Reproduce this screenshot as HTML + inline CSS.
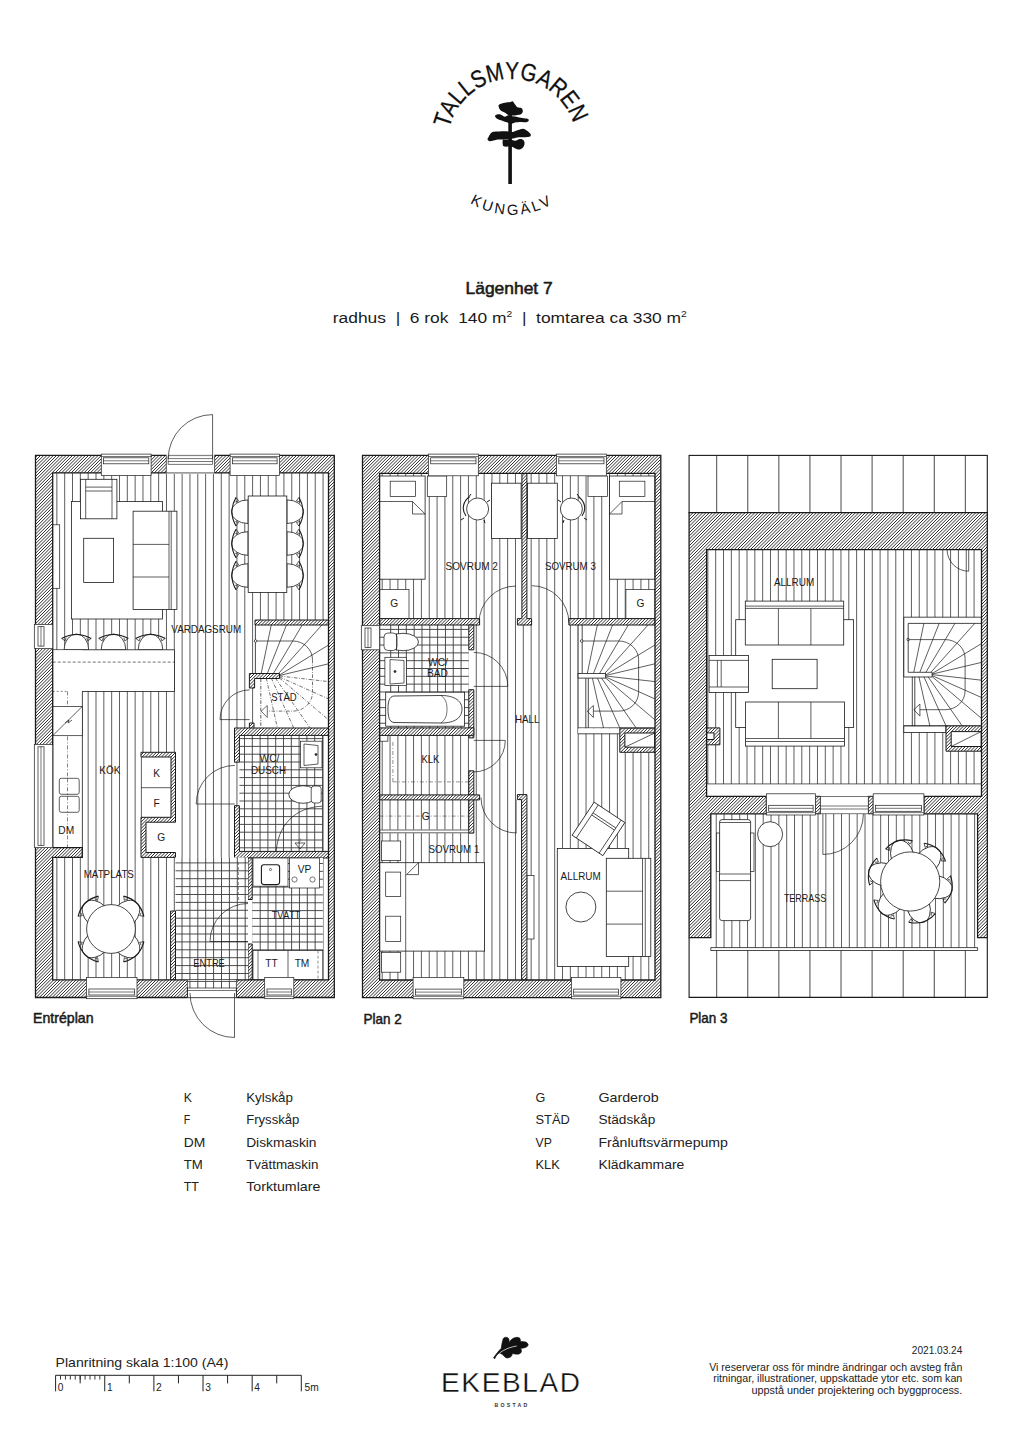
<!DOCTYPE html>
<html><head><meta charset="utf-8"><style>
html,body{margin:0;padding:0;background:#fff;}
svg{display:block;font-family:"Liberation Sans",sans-serif;}
</style></head><body>
<svg width="1024" height="1456" viewBox="0 0 1024 1456">
<defs><clipPath id="c1"><path d="M141 752.3 L175.5 752.3 L175.5 822.2 L146 822.2 L146 852.5 L175.5 852.5 L175.5 857.4 L141 857.4 L141 817.3 L171 817.3 L171 757 L141 757Z"/></clipPath><clipPath id="c2"><path d="M249.4 673.5 L279.5 673.5 L279.5 678.5 L254.6 678.5 L254.6 688 L249.4 688Z"/></clipPath><clipPath id="c3"><path d="M249.4 723H254V729H249.4Z"/></clipPath><clipPath id="c4"><path d="M255 620H328.5V625H255Z"/></clipPath><clipPath id="c5"><path d="M234.5 728 L328.5 728 L328.5 735.4 L239.4 735.4 L239.4 762.2 L234.5 762.2Z"/></clipPath><clipPath id="c6"><path d="M234.5 805.7 L239.4 805.7 L239.4 851.4 L328.5 851.4 L328.5 858 L234.5 858Z"/></clipPath><clipPath id="c7"><path d="M248 858H252.2V899.5H248Z"/></clipPath><clipPath id="c8"><path d="M248 944H252.2V979.9H248Z"/></clipPath><clipPath id="c9"><path d="M170.6 911H175.5V979.9H170.6Z"/></clipPath><clipPath id="c10"><path d="M35.5 455.3 L334.3 455.3 L334.3 997.5 L35.5 997.5Z M52.7 472.9 L52.7 847.6 L82.3 847.6 L82.3 857.4 L52.7 857.4 L52.7 979.9 L328.5 979.9 L328.5 472.9Z" clip-rule="evenodd"/></clipPath><clipPath id="c11"><path d="M619.8 728.2 L655 728.2 L655 752.3 L619.8 752.3Z M624.9 733 L654.8 733 L654.8 747.2 L624.9 747.2Z" clip-rule="evenodd"/></clipPath><clipPath id="c12"><path d="M521.9 473.3 L526.9 473.3 L526.9 618.6 L531.6 618.6 L531.6 625 L517.4 625 L517.4 618.6 L521.9 618.6Z"/></clipPath><clipPath id="c13"><path d="M379.6 618.6H479.6V625H379.6Z"/></clipPath><clipPath id="c14"><path d="M568.9 618.6H655V625H568.9Z"/></clipPath><clipPath id="c15"><path d="M468.8 625H473.8V649.8H468.8Z"/></clipPath><clipPath id="c16"><path d="M468.8 689.7H473.8V737.9H468.8Z"/></clipPath><clipPath id="c17"><path d="M379.6 727.9H473.8V735.4H379.6Z"/></clipPath><clipPath id="c18"><path d="M468.8 770.8H473.8V833.1H468.8Z"/></clipPath><clipPath id="c19"><path d="M379.6 794.9H479.6V799.9H379.6Z"/></clipPath><clipPath id="c20"><path d="M517.4 794.6 L526.9 794.6 L526.9 980 L521.6 980 L521.6 799.6 L517.4 799.6Z"/></clipPath><clipPath id="c21"><path d="M362.5 455.3 L660.8 455.3 L660.8 997.6 L362.5 997.6Z M379.6 473.3 L379.6 980 L655 980 L655 473.3Z" clip-rule="evenodd"/></clipPath><clipPath id="c22"><path d="M706.6 727.9 L719.9 727.9 L719.9 744.8 L706.6 744.8Z M706.6 732.9 L714 732.9 L714 739.5 L706.6 739.5Z" clip-rule="evenodd"/></clipPath><clipPath id="c23"><path d="M946 725.9 L981.5 725.9 L981.5 751.2 L946 751.2Z M951.2 731.6 L981.2 731.6 L981.2 746.5 L951.2 746.5Z" clip-rule="evenodd"/></clipPath><clipPath id="c24"><path d="M689.1 512.6 L987.3 512.6 L987.3 937.6 L977.6 937.6 L977.6 813.8 L923.9 813.8 L923.9 796.3 L981.5 796.3 L981.5 549.6 L706.6 549.6 L706.6 796.3 L766.4 796.3 L766.4 813.8 L710.8 813.8 L710.8 937.7 L689.1 937.7Z"/></clipPath><clipPath id="c25"><path d="M815.4 796.3H820.4V813.8H815.4Z"/></clipPath><clipPath id="c26"><path d="M868.2 796.3H873.2V813.8H868.2Z"/></clipPath>
<pattern id="h1" patternUnits="userSpaceOnUse" width="2.26" height="4" patternTransform="rotate(45)"><rect width="2.26" height="4" fill="#fff"/><rect x="0" y="0" width="0.9" height="4" fill="#1a1a1a"/></pattern>
<pattern id="h3" patternUnits="userSpaceOnUse" width="1.95" height="4" patternTransform="rotate(45)"><rect width="1.95" height="4" fill="#fff"/><rect x="0" y="0" width="0.75" height="4" fill="#222"/></pattern>
</defs>
<rect width="1024" height="1456" fill="#fff"/>
<path id="arcTop" d="M447.5 143.5 A64.5 64.5 0 0 1 576.5 143.5" fill="none"/>
<text font-size="24.5" fill="#111" stroke="#111" stroke-width="0.25"><textPath href="#arcTop" startOffset="98.6" text-anchor="middle" textLength="167" lengthAdjust="spacingAndGlyphs">TALLSMYGAREN</textPath></text>
<path id="arcBot" d="M432 134.8 A80 80 0 0 0 592 134.8" fill="none"/>
<text font-size="14.8" fill="#111" letter-spacing="2.7"><textPath href="#arcBot" startOffset="50%" text-anchor="middle">KUNGÄLV</textPath></text>
<rect x="508.3" y="104" width="3.6" height="80" fill="#111"/>
<path d="M499.3 104.4 C500.35 103.75 503.13 103.2 505 102.8 C506.87 102.4 509.2 102.23 510.5 102 C511.8 101.77 512.03 101 512.8 101.4 C513.57 101.8 514.32 103.42 515.1 104.4 C515.88 105.38 516.42 106.67 517.5 107.3 C518.58 107.93 520.72 107.52 521.6 108.2 C522.48 108.88 522.9 110.38 522.8 111.4 C522.7 112.42 521.88 113.72 521 114.3 C520.12 114.88 519.02 114.7 517.5 114.9 C515.98 115.1 513.47 115.5 511.9 115.5 C510.33 115.5 509.32 115.38 508.1 114.9 C506.88 114.42 505.87 113.38 504.6 112.6 C503.33 111.82 501.48 111.18 500.5 110.2 C499.52 109.22 498.9 107.67 498.7 106.7 C498.5 105.73 498.25 105.05 499.3 104.4Z" fill="#111" stroke="none" stroke-width="0"/>
<path d="M495.8 114.9 C496.58 114.5 498.43 114 499.9 114.3 C501.37 114.6 503.33 116.5 504.6 116.7 C505.87 116.9 506.52 115.6 507.5 115.5 C508.48 115.4 509.03 115.9 510.5 116.1 C511.97 116.3 514.35 116.37 516.3 116.7 C518.25 117.03 520.25 117.72 522.2 118.1 C524.15 118.48 526.93 118.55 528 119 C529.07 119.45 528.88 120.27 528.6 120.8 C528.32 121.33 527.57 122 526.3 122.2 C525.03 122.4 522.87 121.95 521 122 C519.13 122.05 516.67 122.22 515.1 122.5 C513.53 122.78 512.87 123.7 511.6 123.7 C510.33 123.7 509.05 122.98 507.5 122.5 C505.95 122.02 503.95 121.38 502.3 120.8 C500.65 120.22 498.78 119.68 497.6 119 C496.42 118.32 495.5 117.38 495.2 116.7 C494.9 116.02 495.02 115.3 495.8 114.9Z" fill="#111" stroke="none" stroke-width="0"/>
<path d="M488.2 137.8 C488.88 136.63 490.13 133.53 491.7 132.5 C493.27 131.47 495.15 131.8 497.6 131.6 C500.05 131.4 503.87 131.25 506.4 131.3 C508.93 131.35 510.85 132.1 512.8 131.9 C514.75 131.7 516.25 130.58 518.1 130.1 C519.95 129.62 521.85 128.4 523.9 129 C525.95 129.6 529.42 132.43 530.4 133.7 C531.38 134.97 530.58 136.02 529.8 136.6 C529.02 137.18 527.55 137.1 525.7 137.2 C523.85 137.3 520.85 137 518.7 137.2 C516.55 137.4 515.35 138.02 512.8 138.4 C510.25 138.78 505.93 139.32 503.4 139.5 C500.87 139.68 499.83 139.2 497.6 139.5 C495.37 139.8 491.67 141.3 490 141.3 C488.33 141.3 487.9 140.08 487.6 139.5 C487.3 138.92 487.52 138.97 488.2 137.8Z" fill="#111" stroke="none" stroke-width="0"/>
<path d="M502.8 140.1 C503.1 139.22 503.32 139.6 504.6 139.5 C505.88 139.4 508.75 139.3 510.5 139.5 C512.25 139.7 513.55 140.8 515.1 140.7 C516.65 140.6 518.42 139 519.8 138.9 C521.18 138.8 522.62 139.22 523.4 140.1 C524.18 140.98 524.7 142.83 524.5 144.2 C524.3 145.57 523.27 147.42 522.2 148.3 C521.13 149.18 519.47 149.6 518.1 149.5 C516.73 149.4 515.18 148.18 514 147.7 C512.82 147.22 512.57 146.78 511 146.6 C509.43 146.42 505.97 146.9 504.6 146.6 C503.23 146.3 503.1 145.88 502.8 144.8 C502.5 143.72 502.5 140.98 502.8 140.1Z" fill="#111" stroke="none" stroke-width="0"/>
<text x="509.1" y="294.2" font-size="16.2" text-anchor="middle" font-weight="normal" fill="#1a1a1a" textLength="87.2" lengthAdjust="spacingAndGlyphs" stroke="#1a1a1a" stroke-width="0.55">Lägenhet 7</text>
<text x="509.8" y="323.2" font-size="15.2" text-anchor="middle" fill="#1a1a1a" textLength="354" lengthAdjust="spacingAndGlyphs">radhus &#160;| &#160;6 rok &#160;140 m<tspan font-size="9" dy="-6">2</tspan><tspan dy="6"> &#160;| &#160;tomtarea ca 330 m</tspan><tspan font-size="9" dy="-6">2</tspan></text>
<text x="33" y="1022.9" font-size="14.2" text-anchor="start" font-weight="normal" fill="#1a1a1a" textLength="60.5" lengthAdjust="spacingAndGlyphs" stroke="#1a1a1a" stroke-width="0.5">Entréplan</text>
<text x="363.6" y="1023.5" font-size="14.2" text-anchor="start" font-weight="normal" fill="#1a1a1a" textLength="38.2" lengthAdjust="spacingAndGlyphs" stroke="#1a1a1a" stroke-width="0.5">Plan 2</text>
<text x="689.4" y="1022.9" font-size="14.2" text-anchor="start" font-weight="normal" fill="#1a1a1a" textLength="38.1" lengthAdjust="spacingAndGlyphs" stroke="#1a1a1a" stroke-width="0.5">Plan 3</text>
<text x="183.7" y="1101.9" font-size="13.4" text-anchor="start" font-weight="normal" fill="#222" textLength="8.2" lengthAdjust="spacingAndGlyphs">K</text>
<text x="246.2" y="1101.9" font-size="13.4" text-anchor="start" font-weight="normal" fill="#222" textLength="46.8" lengthAdjust="spacingAndGlyphs">Kylskåp</text>
<text x="183.7" y="1124.25" font-size="13.4" text-anchor="start" font-weight="normal" fill="#222" textLength="6.5" lengthAdjust="spacingAndGlyphs">F</text>
<text x="246.2" y="1124.25" font-size="13.4" text-anchor="start" font-weight="normal" fill="#222" textLength="53.1" lengthAdjust="spacingAndGlyphs">Frysskåp</text>
<text x="183.7" y="1146.6" font-size="13.4" text-anchor="start" font-weight="normal" fill="#222" textLength="21.5" lengthAdjust="spacingAndGlyphs">DM</text>
<text x="246.2" y="1146.6" font-size="13.4" text-anchor="start" font-weight="normal" fill="#222" textLength="70.3" lengthAdjust="spacingAndGlyphs">Diskmaskin</text>
<text x="183.7" y="1168.95" font-size="13.4" text-anchor="start" font-weight="normal" fill="#222" textLength="19.1" lengthAdjust="spacingAndGlyphs">TM</text>
<text x="246.2" y="1168.95" font-size="13.4" text-anchor="start" font-weight="normal" fill="#222" textLength="72.2" lengthAdjust="spacingAndGlyphs">Tvättmaskin</text>
<text x="183.7" y="1191.3" font-size="13.4" text-anchor="start" font-weight="normal" fill="#222" textLength="15.2" lengthAdjust="spacingAndGlyphs">TT</text>
<text x="246.2" y="1191.3" font-size="13.4" text-anchor="start" font-weight="normal" fill="#222" textLength="74.2" lengthAdjust="spacingAndGlyphs">Torktumlare</text>
<text x="535.5" y="1101.9" font-size="13.4" text-anchor="start" font-weight="normal" fill="#222" textLength="9.8" lengthAdjust="spacingAndGlyphs">G</text>
<text x="598.4" y="1101.9" font-size="13.4" text-anchor="start" font-weight="normal" fill="#222" textLength="60.2" lengthAdjust="spacingAndGlyphs">Garderob</text>
<text x="535.5" y="1124.25" font-size="13.4" text-anchor="start" font-weight="normal" fill="#222" textLength="34.3" lengthAdjust="spacingAndGlyphs">STÄD</text>
<text x="598.4" y="1124.25" font-size="13.4" text-anchor="start" font-weight="normal" fill="#222" textLength="56.9" lengthAdjust="spacingAndGlyphs">Städskåp</text>
<text x="535.5" y="1146.6" font-size="13.4" text-anchor="start" font-weight="normal" fill="#222" textLength="16.3" lengthAdjust="spacingAndGlyphs">VP</text>
<text x="598.4" y="1146.6" font-size="13.4" text-anchor="start" font-weight="normal" fill="#222" textLength="129.6" lengthAdjust="spacingAndGlyphs">Frånluftsvärmepump</text>
<text x="535.5" y="1168.95" font-size="13.4" text-anchor="start" font-weight="normal" fill="#222" textLength="24.2" lengthAdjust="spacingAndGlyphs">KLK</text>
<text x="598.4" y="1168.95" font-size="13.4" text-anchor="start" font-weight="normal" fill="#222" textLength="85.9" lengthAdjust="spacingAndGlyphs">Klädkammare</text>
<text x="55.6" y="1366.9" font-size="13.2" text-anchor="start" font-weight="normal" fill="#222" textLength="172.8" lengthAdjust="spacingAndGlyphs">Planritning skala 1:100 (A4)</text>
<line x1="55.6" y1="1375.3" x2="301.3" y2="1375.3" stroke="#222" stroke-width="1"/>
<line x1="55.6" y1="1375.3" x2="55.6" y2="1391.3" stroke="#222" stroke-width="1"/>
<line x1="104.74" y1="1375.3" x2="104.74" y2="1391.3" stroke="#222" stroke-width="1"/>
<line x1="153.88" y1="1375.3" x2="153.88" y2="1391.3" stroke="#222" stroke-width="1"/>
<line x1="203.02" y1="1375.3" x2="203.02" y2="1391.3" stroke="#222" stroke-width="1"/>
<line x1="252.16" y1="1375.3" x2="252.16" y2="1391.3" stroke="#222" stroke-width="1"/>
<line x1="301.3" y1="1375.3" x2="301.3" y2="1391.3" stroke="#222" stroke-width="1"/>
<line x1="80.17" y1="1375.3" x2="80.17" y2="1383.4" stroke="#222" stroke-width="1"/>
<line x1="129.31" y1="1375.3" x2="129.31" y2="1383.4" stroke="#222" stroke-width="1"/>
<line x1="178.45" y1="1375.3" x2="178.45" y2="1383.4" stroke="#222" stroke-width="1"/>
<line x1="227.59" y1="1375.3" x2="227.59" y2="1383.4" stroke="#222" stroke-width="1"/>
<line x1="276.73" y1="1375.3" x2="276.73" y2="1383.4" stroke="#222" stroke-width="1"/>
<line x1="60.51" y1="1375.3" x2="60.51" y2="1379.6" stroke="#222" stroke-width="0.9"/>
<line x1="65.43" y1="1375.3" x2="65.43" y2="1379.6" stroke="#222" stroke-width="0.9"/>
<line x1="70.34" y1="1375.3" x2="70.34" y2="1379.6" stroke="#222" stroke-width="0.9"/>
<line x1="75.26" y1="1375.3" x2="75.26" y2="1379.6" stroke="#222" stroke-width="0.9"/>
<line x1="80.17" y1="1375.3" x2="80.17" y2="1379.6" stroke="#222" stroke-width="0.9"/>
<line x1="85.08" y1="1375.3" x2="85.08" y2="1379.6" stroke="#222" stroke-width="0.9"/>
<line x1="90" y1="1375.3" x2="90" y2="1379.6" stroke="#222" stroke-width="0.9"/>
<line x1="94.91" y1="1375.3" x2="94.91" y2="1379.6" stroke="#222" stroke-width="0.9"/>
<line x1="99.83" y1="1375.3" x2="99.83" y2="1379.6" stroke="#222" stroke-width="0.9"/>
<text x="57.8" y="1391.3" font-size="10.2" text-anchor="start" font-weight="normal" fill="#222">0</text>
<text x="106.94" y="1391.3" font-size="10.2" text-anchor="start" font-weight="normal" fill="#222">1</text>
<text x="156.08" y="1391.3" font-size="10.2" text-anchor="start" font-weight="normal" fill="#222">2</text>
<text x="205.22" y="1391.3" font-size="10.2" text-anchor="start" font-weight="normal" fill="#222">3</text>
<text x="254.36" y="1391.3" font-size="10.2" text-anchor="start" font-weight="normal" fill="#222">4</text>
<text x="304.5" y="1391.3" font-size="10.2" text-anchor="start" font-weight="normal" fill="#222">5m</text>
<path d="M493.5 1357.8 C497 1353 499 1350.5 501.1 1348.5 C502 1344 502.5 1339 504 1337.8 C506 1336.5 508.5 1337.5 509 1339.5 C509.2 1341 508.9 1342 508.9 1342.6 C510.5 1340 513 1337.5 517 1337.3 C520 1337.2 521 1339.5 520.2 1341.5 C523 1341.5 527 1341.5 528 1344 C528.8 1346.5 525.5 1348 520.5 1348.5 C522 1350 522 1353 519 1354 C516.5 1354.5 514 1354 512.3 1353.4 C512.5 1356 510 1358 507.5 1358 C505 1358 504 1356 502.5 1354.5 C501 1353.5 500 1353 499.2 1352.9 C497 1354.5 495.5 1356.5 494.8 1358.8 Z" fill="#111" stroke="#111" stroke-width="0.6"/>
<path d="M499.6 1352.9 C505 1349 511 1346.8 516.7 1346" fill="none" stroke="#fff" stroke-width="0.7"/>
<text x="441" y="1391.5" font-size="28" fill="#111" stroke="#fff" stroke-width="0.3" textLength="139" lengthAdjust="spacing">EKEBLAD</text>
<text x="494.4" y="1407" font-size="5.2" font-weight="bold" fill="#333" textLength="32.8" lengthAdjust="spacing">BOSTAD</text>
<text x="962.3" y="1353.5" font-size="10.4" text-anchor="end" font-weight="normal" fill="#222" textLength="50.5" lengthAdjust="spacingAndGlyphs">2021.03.24</text>
<text x="962.3" y="1370.6" font-size="10.4" text-anchor="end" font-weight="normal" fill="#222" textLength="253.1" lengthAdjust="spacingAndGlyphs">Vi reserverar oss för mindre ändringar och avsteg från</text>
<text x="962.3" y="1381.9" font-size="10.4" text-anchor="end" font-weight="normal" fill="#222" textLength="249.1" lengthAdjust="spacingAndGlyphs">ritningar, illustrationer, uppskattade ytor etc. som kan</text>
<text x="962.3" y="1393.5" font-size="10.4" text-anchor="end" font-weight="normal" fill="#222" textLength="210.9" lengthAdjust="spacingAndGlyphs">uppstå under projektering och byggprocess.</text>
<rect x="52.7" y="472.9" width="275.8" height="507" fill="#fff"/>
<line x1="56.85" y1="472.9" x2="56.85" y2="979.9" stroke="#2a2a2a" stroke-width="0.75"/>
<line x1="64.68" y1="472.9" x2="64.68" y2="979.9" stroke="#2a2a2a" stroke-width="0.75"/>
<line x1="72.51" y1="472.9" x2="72.51" y2="979.9" stroke="#2a2a2a" stroke-width="0.75"/>
<line x1="80.34" y1="472.9" x2="80.34" y2="979.9" stroke="#2a2a2a" stroke-width="0.75"/>
<line x1="88.17" y1="472.9" x2="88.17" y2="979.9" stroke="#2a2a2a" stroke-width="0.75"/>
<line x1="96" y1="472.9" x2="96" y2="979.9" stroke="#2a2a2a" stroke-width="0.75"/>
<line x1="103.83" y1="472.9" x2="103.83" y2="979.9" stroke="#2a2a2a" stroke-width="0.75"/>
<line x1="111.66" y1="472.9" x2="111.66" y2="979.9" stroke="#2a2a2a" stroke-width="0.75"/>
<line x1="119.49" y1="472.9" x2="119.49" y2="979.9" stroke="#2a2a2a" stroke-width="0.75"/>
<line x1="127.32" y1="472.9" x2="127.32" y2="979.9" stroke="#2a2a2a" stroke-width="0.75"/>
<line x1="135.15" y1="472.9" x2="135.15" y2="979.9" stroke="#2a2a2a" stroke-width="0.75"/>
<line x1="142.98" y1="472.9" x2="142.98" y2="979.9" stroke="#2a2a2a" stroke-width="0.75"/>
<line x1="150.81" y1="472.9" x2="150.81" y2="979.9" stroke="#2a2a2a" stroke-width="0.75"/>
<line x1="158.64" y1="472.9" x2="158.64" y2="979.9" stroke="#2a2a2a" stroke-width="0.75"/>
<line x1="166.47" y1="472.9" x2="166.47" y2="979.9" stroke="#2a2a2a" stroke-width="0.75"/>
<line x1="174.3" y1="472.9" x2="174.3" y2="979.9" stroke="#2a2a2a" stroke-width="0.75"/>
<line x1="182.13" y1="472.9" x2="182.13" y2="979.9" stroke="#2a2a2a" stroke-width="0.75"/>
<line x1="189.96" y1="472.9" x2="189.96" y2="979.9" stroke="#2a2a2a" stroke-width="0.75"/>
<line x1="197.79" y1="472.9" x2="197.79" y2="979.9" stroke="#2a2a2a" stroke-width="0.75"/>
<line x1="205.62" y1="472.9" x2="205.62" y2="979.9" stroke="#2a2a2a" stroke-width="0.75"/>
<line x1="213.45" y1="472.9" x2="213.45" y2="979.9" stroke="#2a2a2a" stroke-width="0.75"/>
<line x1="221.28" y1="472.9" x2="221.28" y2="979.9" stroke="#2a2a2a" stroke-width="0.75"/>
<line x1="229.11" y1="472.9" x2="229.11" y2="979.9" stroke="#2a2a2a" stroke-width="0.75"/>
<line x1="236.94" y1="472.9" x2="236.94" y2="979.9" stroke="#2a2a2a" stroke-width="0.75"/>
<line x1="244.77" y1="472.9" x2="244.77" y2="979.9" stroke="#2a2a2a" stroke-width="0.75"/>
<line x1="252.6" y1="472.9" x2="252.6" y2="979.9" stroke="#2a2a2a" stroke-width="0.75"/>
<line x1="260.43" y1="472.9" x2="260.43" y2="979.9" stroke="#2a2a2a" stroke-width="0.75"/>
<line x1="268.26" y1="472.9" x2="268.26" y2="979.9" stroke="#2a2a2a" stroke-width="0.75"/>
<line x1="276.09" y1="472.9" x2="276.09" y2="979.9" stroke="#2a2a2a" stroke-width="0.75"/>
<line x1="283.92" y1="472.9" x2="283.92" y2="979.9" stroke="#2a2a2a" stroke-width="0.75"/>
<line x1="291.75" y1="472.9" x2="291.75" y2="979.9" stroke="#2a2a2a" stroke-width="0.75"/>
<line x1="299.58" y1="472.9" x2="299.58" y2="979.9" stroke="#2a2a2a" stroke-width="0.75"/>
<line x1="307.41" y1="472.9" x2="307.41" y2="979.9" stroke="#2a2a2a" stroke-width="0.75"/>
<line x1="315.24" y1="472.9" x2="315.24" y2="979.9" stroke="#2a2a2a" stroke-width="0.75"/>
<line x1="323.07" y1="472.9" x2="323.07" y2="979.9" stroke="#2a2a2a" stroke-width="0.75"/>
<rect x="71.5" y="501.4" width="90.9" height="117.6" fill="#fff" stroke="#1a1a1a" stroke-width="0.8"/>
<rect x="80.4" y="479.3" width="36.5" height="39.5" fill="#fff" stroke="#1a1a1a" stroke-width="0.8"/>
<line x1="85.7" y1="479.3" x2="85.7" y2="518.8" stroke="#1a1a1a" stroke-width="0.7"/>
<line x1="112" y1="479.3" x2="112" y2="518.8" stroke="#1a1a1a" stroke-width="0.7"/>
<line x1="85.7" y1="487.1" x2="112" y2="487.1" stroke="#1a1a1a" stroke-width="0.7"/>
<line x1="85.7" y1="491" x2="112" y2="491" stroke="#1a1a1a" stroke-width="0.7"/>
<rect x="83.7" y="538.3" width="29.9" height="44.2" fill="#fff" stroke="#1a1a1a" stroke-width="0.8"/>
<rect x="133.1" y="511.2" width="43.8" height="98.3" fill="#fff" stroke="#1a1a1a" stroke-width="0.8"/>
<line x1="169" y1="511.2" x2="169" y2="609.5" stroke="#1a1a1a" stroke-width="0.7"/>
<line x1="171.2" y1="511.2" x2="171.2" y2="609.5" stroke="#1a1a1a" stroke-width="0.7"/>
<line x1="133.1" y1="544.4" x2="169" y2="544.4" stroke="#1a1a1a" stroke-width="0.7"/>
<line x1="133.1" y1="577" x2="169" y2="577" stroke="#1a1a1a" stroke-width="0.7"/>
<rect x="52.7" y="524.8" width="7" height="63.5" fill="#fff" stroke="#1a1a1a" stroke-width="0.7"/>
<g transform="translate(248 511.7) rotate(90)"><path d="M-11.8 0 A11.8 16.6 0 0 0 11.8 0Z" fill="#fff" stroke="#1a1a1a" stroke-width="0.8"/><path d="M-14.3 11.95 Q0 20.25 14.3 11.95" fill="none" stroke="#1a1a1a" stroke-width="1.1"/><path d="M-14.3 11.95 l3.5 -2.5 l1 3.2 M14.3 11.95 l-3.5 -2.5 l-1 3.2" fill="none" stroke="#1a1a1a" stroke-width="0.7"/></g>
<g transform="translate(287 511.7) rotate(-90)"><path d="M-11.8 0 A11.8 16.6 0 0 0 11.8 0Z" fill="#fff" stroke="#1a1a1a" stroke-width="0.8"/><path d="M-14.3 11.95 Q0 20.25 14.3 11.95" fill="none" stroke="#1a1a1a" stroke-width="1.1"/><path d="M-14.3 11.95 l3.5 -2.5 l1 3.2 M14.3 11.95 l-3.5 -2.5 l-1 3.2" fill="none" stroke="#1a1a1a" stroke-width="0.7"/></g>
<g transform="translate(248 543.5) rotate(90)"><path d="M-11.8 0 A11.8 16.6 0 0 0 11.8 0Z" fill="#fff" stroke="#1a1a1a" stroke-width="0.8"/><path d="M-14.3 11.95 Q0 20.25 14.3 11.95" fill="none" stroke="#1a1a1a" stroke-width="1.1"/><path d="M-14.3 11.95 l3.5 -2.5 l1 3.2 M14.3 11.95 l-3.5 -2.5 l-1 3.2" fill="none" stroke="#1a1a1a" stroke-width="0.7"/></g>
<g transform="translate(287 543.5) rotate(-90)"><path d="M-11.8 0 A11.8 16.6 0 0 0 11.8 0Z" fill="#fff" stroke="#1a1a1a" stroke-width="0.8"/><path d="M-14.3 11.95 Q0 20.25 14.3 11.95" fill="none" stroke="#1a1a1a" stroke-width="1.1"/><path d="M-14.3 11.95 l3.5 -2.5 l1 3.2 M14.3 11.95 l-3.5 -2.5 l-1 3.2" fill="none" stroke="#1a1a1a" stroke-width="0.7"/></g>
<g transform="translate(248 575.5) rotate(90)"><path d="M-11.8 0 A11.8 16.6 0 0 0 11.8 0Z" fill="#fff" stroke="#1a1a1a" stroke-width="0.8"/><path d="M-14.3 11.95 Q0 20.25 14.3 11.95" fill="none" stroke="#1a1a1a" stroke-width="1.1"/><path d="M-14.3 11.95 l3.5 -2.5 l1 3.2 M14.3 11.95 l-3.5 -2.5 l-1 3.2" fill="none" stroke="#1a1a1a" stroke-width="0.7"/></g>
<g transform="translate(287 575.5) rotate(-90)"><path d="M-11.8 0 A11.8 16.6 0 0 0 11.8 0Z" fill="#fff" stroke="#1a1a1a" stroke-width="0.8"/><path d="M-14.3 11.95 Q0 20.25 14.3 11.95" fill="none" stroke="#1a1a1a" stroke-width="1.1"/><path d="M-14.3 11.95 l3.5 -2.5 l1 3.2 M14.3 11.95 l-3.5 -2.5 l-1 3.2" fill="none" stroke="#1a1a1a" stroke-width="0.7"/></g>
<rect x="248.2" y="496" width="38.6" height="96.4" fill="#fff" stroke="#1a1a1a" stroke-width="0.8"/>
<g transform="translate(76.4 649.8) rotate(180)"><path d="M-12.3 0 A12.3 15.8 0 0 0 12.3 0Z" fill="#fff" stroke="#1a1a1a" stroke-width="0.8"/><path d="M-14.8 11.38 Q0 19.28 14.8 11.38" fill="none" stroke="#1a1a1a" stroke-width="1.1"/><path d="M-14.8 11.38 l3.5 -2.5 l1 3.2 M14.8 11.38 l-3.5 -2.5 l-1 3.2" fill="none" stroke="#1a1a1a" stroke-width="0.7"/></g>
<g transform="translate(113.5 649.8) rotate(180)"><path d="M-12.3 0 A12.3 15.8 0 0 0 12.3 0Z" fill="#fff" stroke="#1a1a1a" stroke-width="0.8"/><path d="M-14.8 11.38 Q0 19.28 14.8 11.38" fill="none" stroke="#1a1a1a" stroke-width="1.1"/><path d="M-14.8 11.38 l3.5 -2.5 l1 3.2 M14.8 11.38 l-3.5 -2.5 l-1 3.2" fill="none" stroke="#1a1a1a" stroke-width="0.7"/></g>
<g transform="translate(150.5 649.8) rotate(180)"><path d="M-12.3 0 A12.3 15.8 0 0 0 12.3 0Z" fill="#fff" stroke="#1a1a1a" stroke-width="0.8"/><path d="M-14.8 11.38 Q0 19.28 14.8 11.38" fill="none" stroke="#1a1a1a" stroke-width="1.1"/><path d="M-14.8 11.38 l3.5 -2.5 l1 3.2 M14.8 11.38 l-3.5 -2.5 l-1 3.2" fill="none" stroke="#1a1a1a" stroke-width="0.7"/></g>
<rect x="52.7" y="691.4" width="29.6" height="156.2" fill="#fff" stroke="#1a1a1a" stroke-width="0.8"/>
<rect x="52.7" y="649.8" width="121.8" height="41.6" fill="#fff" stroke="#1a1a1a" stroke-width="0.8"/>
<rect x="53.2" y="650.3" width="28.8" height="41.7" fill="#fff"/>
<line x1="52.7" y1="662.1" x2="174.5" y2="662.1" stroke="#333" stroke-width="0.7" stroke-dasharray="3 2"/>
<line x1="67.5" y1="691.4" x2="67.5" y2="847.6" stroke="#333" stroke-width="0.6" stroke-dasharray="4 2 1 2"/>
<line x1="52.7" y1="691.4" x2="67.5" y2="691.4" stroke="#333" stroke-width="0.6" stroke-dasharray="2 2"/>
<rect x="52.7" y="706.4" width="29.6" height="29.3" fill="#fff" stroke="#1a1a1a" stroke-width="0.7"/>
<line x1="52.7" y1="735.7" x2="82.3" y2="706.4" stroke="#1a1a1a" stroke-width="0.7"/>
<path d="M65 723 l4 -3 l-1 3 l4 -3" fill="none" stroke="#1a1a1a" stroke-width="0.7"/>
<rect x="59.3" y="778.3" width="19.9" height="16" rx="2" fill="#fff" stroke="#1a1a1a" stroke-width="0.7"/>
<rect x="59.3" y="796.3" width="19.9" height="16" rx="2" fill="#fff" stroke="#1a1a1a" stroke-width="0.7"/>
<line x1="67.5" y1="778.3" x2="67.5" y2="812.3" stroke="#333" stroke-width="0.6" stroke-dasharray="4 2 1 2"/>
<rect x="141" y="752.3" width="34.5" height="105.1" fill="#fff"/>
<line x1="141.4" y1="757" x2="141.4" y2="817.3" stroke="#1a1a1a" stroke-width="0.7"/>
<line x1="141.4" y1="787.7" x2="171" y2="787.7" stroke="#1a1a1a" stroke-width="0.7"/>
<path d="M141 752.3 L175.5 752.3 L175.5 822.2 L146 822.2 L146 852.5 L175.5 852.5 L175.5 857.4 L141 857.4 L141 817.3 L171 817.3 L171 757 L141 757Z" fill="#fff"/>
<path clip-path="url(#c1)" d="M141 755L143.7 752.3M141 758.2L146.9 752.3M141 761.4L150.1 752.3M141 764.6L153.3 752.3M141 767.8L156.5 752.3M141 771L159.7 752.3M141 774.2L162.9 752.3M141 777.4L166.1 752.3M141 780.6L169.3 752.3M141 783.8L172.5 752.3M141 787L175.5 752.5M141 790.2L175.5 755.7M141 793.4L175.5 758.9M141 796.6L175.5 762.1M141 799.8L175.5 765.3M141 803L175.5 768.5M141 806.2L175.5 771.7M141 809.4L175.5 774.9M141 812.6L175.5 778.1M141 815.8L175.5 781.3M141 819L175.5 784.5M141 822.2L175.5 787.7M141 825.4L175.5 790.9M141 828.6L175.5 794.1M141 831.8L175.5 797.3M141 835L175.5 800.5M141 838.2L175.5 803.7M141 841.4L175.5 806.9M141 844.6L175.5 810.1M141 847.8L175.5 813.3M141 851L175.5 816.5M141 854.2L175.5 819.7M141 857.4L175.5 822.9M144.2 857.4L175.5 826.1M147.4 857.4L175.5 829.3M150.6 857.4L175.5 832.5M153.8 857.4L175.5 835.7M157 857.4L175.5 838.9M160.2 857.4L175.5 842.1M163.4 857.4L175.5 845.3M166.6 857.4L175.5 848.5M169.8 857.4L175.5 851.7M173 857.4L175.5 854.9" stroke="#222" stroke-width="0.95" fill="none"/>
<path d="M141 752.3 L175.5 752.3 L175.5 822.2 L146 822.2 L146 852.5 L175.5 852.5 L175.5 857.4 L141 857.4 L141 817.3 L171 817.3 L171 757 L141 757Z" fill="none" stroke="#1a1a1a" stroke-width="1"/>
<rect x="255" y="625" width="73.5" height="103" fill="#fff"/>
<line x1="255.4" y1="625" x2="255.4" y2="674" stroke="#1a1a1a" stroke-width="0.8"/>
<line x1="271.3" y1="624.7" x2="261.2" y2="673.5" stroke="#1a1a1a" stroke-width="0.7"/>
<line x1="286.6" y1="624.7" x2="267.3" y2="673.5" stroke="#1a1a1a" stroke-width="0.7"/>
<line x1="302.4" y1="624.7" x2="273.4" y2="673.5" stroke="#1a1a1a" stroke-width="0.7"/>
<line x1="322.2" y1="624.7" x2="278.5" y2="673.5" stroke="#1a1a1a" stroke-width="0.7"/>
<line x1="328.5" y1="645" x2="279.5" y2="675" stroke="#1a1a1a" stroke-width="0.7"/>
<line x1="328.5" y1="663.8" x2="279.5" y2="675.5" stroke="#1a1a1a" stroke-width="0.7"/>
<line x1="266.3" y1="678.1" x2="277.4" y2="727.9" stroke="#333" stroke-width="0.7" stroke-dasharray="3.5 1.5 0.8 1.5"/>
<line x1="271.3" y1="678.1" x2="293.7" y2="727.9" stroke="#333" stroke-width="0.7" stroke-dasharray="3.5 1.5 0.8 1.5"/>
<line x1="275.4" y1="678.1" x2="310" y2="727.9" stroke="#333" stroke-width="0.7" stroke-dasharray="3.5 1.5 0.8 1.5"/>
<line x1="279.5" y1="678" x2="328.5" y2="719.8" stroke="#333" stroke-width="0.7" stroke-dasharray="3.5 1.5 0.8 1.5"/>
<line x1="279.5" y1="677" x2="328.5" y2="698.9" stroke="#333" stroke-width="0.7" stroke-dasharray="3.5 1.5 0.8 1.5"/>
<line x1="279.5" y1="676" x2="328.5" y2="681.6" stroke="#333" stroke-width="0.7" stroke-dasharray="3.5 1.5 0.8 1.5"/>
<path d="M255.6 641 L292.7 641 A19.8 18.8 0 0 1 312.5 659.8" fill="none" stroke="#1a1a1a" stroke-width="0.7"/>
<path d="M312.5 659.8 L312.5 692.3 A19.8 18.8 0 0 1 292.7 711.1 L267.3 711.1" fill="none" stroke="#333" stroke-width="0.7" stroke-dasharray="3.5 1.5 0.8 1.5"/>
<path d="M267.3 705.5 L261.2 711.1 L267.3 717.5 Z" fill="none" stroke="#333" stroke-width="0.7"/>
<circle cx="255.6" cy="641" r="1.3" fill="#fff" stroke="#1a1a1a" stroke-width="0.7"/>
<line x1="260.8" y1="678.5" x2="260.8" y2="727" stroke="#333" stroke-width="0.8" stroke-dasharray="3.5 1.5 0.8 1.5"/>
<path d="M249.4 673.5 L279.5 673.5 L279.5 678.5 L254.6 678.5 L254.6 688 L249.4 688Z" fill="#fff"/>
<path clip-path="url(#c2)" d="M249.4 675.4L251.3 673.5M249.4 678.6L254.5 673.5M249.4 681.8L257.7 673.5M249.4 685L260.9 673.5M249.6 688L264.1 673.5M252.8 688L267.3 673.5M256 688L270.5 673.5M259.2 688L273.7 673.5M262.4 688L276.9 673.5M265.6 688L279.5 674.1M268.8 688L279.5 677.3M272 688L279.5 680.5M275.2 688L279.5 683.7M278.4 688L279.5 686.9" stroke="#222" stroke-width="0.95" fill="none"/>
<path d="M249.4 673.5 L279.5 673.5 L279.5 678.5 L254.6 678.5 L254.6 688 L249.4 688Z" fill="none" stroke="#1a1a1a" stroke-width="1"/>
<path d="M249.4 723H254V729H249.4Z" fill="#fff"/>
<path clip-path="url(#c3)" d="M249.4 723.4L249.8 723M249.4 726.6L253 723M250.2 729L254 725.2M253.4 729L254 728.4" stroke="#222" stroke-width="0.95" fill="none"/>
<path d="M249.4 723H254V729H249.4Z" fill="none" stroke="#1a1a1a" stroke-width="1"/>
<path d="M255 620H328.5V625H255Z" fill="#fff"/>
<path clip-path="url(#c4)" d="M255 621.8L256.8 620M255 625L260 620M258.2 625L263.2 620M261.4 625L266.4 620M264.6 625L269.6 620M267.8 625L272.8 620M271 625L276 620M274.2 625L279.2 620M277.4 625L282.4 620M280.6 625L285.6 620M283.8 625L288.8 620M287 625L292 620M290.2 625L295.2 620M293.4 625L298.4 620M296.6 625L301.6 620M299.8 625L304.8 620M303 625L308 620M306.2 625L311.2 620M309.4 625L314.4 620M312.6 625L317.6 620M315.8 625L320.8 620M319 625L324 620M322.2 625L327.2 620M325.4 625L328.5 621.9" stroke="#222" stroke-width="0.95" fill="none"/>
<path d="M255 620H328.5V625H255Z" fill="none" stroke="#1a1a1a" stroke-width="1"/>
<rect x="239.4" y="735.4" width="83.5" height="116" fill="#fff"/>
<line x1="244.5" y1="735.4" x2="244.5" y2="851.4" stroke="#3a3a3a" stroke-width="0.9"/>
<line x1="252.3" y1="735.4" x2="252.3" y2="851.4" stroke="#3a3a3a" stroke-width="0.9"/>
<line x1="260.1" y1="735.4" x2="260.1" y2="851.4" stroke="#3a3a3a" stroke-width="0.9"/>
<line x1="267.9" y1="735.4" x2="267.9" y2="851.4" stroke="#3a3a3a" stroke-width="0.9"/>
<line x1="275.7" y1="735.4" x2="275.7" y2="851.4" stroke="#3a3a3a" stroke-width="0.9"/>
<line x1="283.5" y1="735.4" x2="283.5" y2="851.4" stroke="#3a3a3a" stroke-width="0.9"/>
<line x1="291.3" y1="735.4" x2="291.3" y2="851.4" stroke="#3a3a3a" stroke-width="0.9"/>
<line x1="299.1" y1="735.4" x2="299.1" y2="851.4" stroke="#3a3a3a" stroke-width="0.9"/>
<line x1="306.9" y1="735.4" x2="306.9" y2="851.4" stroke="#3a3a3a" stroke-width="0.9"/>
<line x1="314.7" y1="735.4" x2="314.7" y2="851.4" stroke="#3a3a3a" stroke-width="0.9"/>
<line x1="322.5" y1="735.4" x2="322.5" y2="851.4" stroke="#3a3a3a" stroke-width="0.9"/>
<line x1="239.4" y1="738.6" x2="322.9" y2="738.6" stroke="#3a3a3a" stroke-width="0.9"/>
<line x1="239.4" y1="746.4" x2="322.9" y2="746.4" stroke="#3a3a3a" stroke-width="0.9"/>
<line x1="239.4" y1="754.2" x2="322.9" y2="754.2" stroke="#3a3a3a" stroke-width="0.9"/>
<line x1="239.4" y1="762" x2="322.9" y2="762" stroke="#3a3a3a" stroke-width="0.9"/>
<line x1="239.4" y1="769.8" x2="322.9" y2="769.8" stroke="#3a3a3a" stroke-width="0.9"/>
<line x1="239.4" y1="777.6" x2="322.9" y2="777.6" stroke="#3a3a3a" stroke-width="0.9"/>
<line x1="239.4" y1="785.4" x2="322.9" y2="785.4" stroke="#3a3a3a" stroke-width="0.9"/>
<line x1="239.4" y1="793.2" x2="322.9" y2="793.2" stroke="#3a3a3a" stroke-width="0.9"/>
<line x1="239.4" y1="801" x2="322.9" y2="801" stroke="#3a3a3a" stroke-width="0.9"/>
<line x1="239.4" y1="808.8" x2="322.9" y2="808.8" stroke="#3a3a3a" stroke-width="0.9"/>
<line x1="239.4" y1="816.6" x2="322.9" y2="816.6" stroke="#3a3a3a" stroke-width="0.9"/>
<line x1="239.4" y1="824.4" x2="322.9" y2="824.4" stroke="#3a3a3a" stroke-width="0.9"/>
<line x1="239.4" y1="832.2" x2="322.9" y2="832.2" stroke="#3a3a3a" stroke-width="0.9"/>
<line x1="239.4" y1="840" x2="322.9" y2="840" stroke="#3a3a3a" stroke-width="0.9"/>
<line x1="239.4" y1="847.8" x2="322.9" y2="847.8" stroke="#3a3a3a" stroke-width="0.9"/>
<rect x="300.4" y="741.2" width="21.6" height="26.6" fill="#fff" stroke="#1a1a1a" stroke-width="0.7"/>
<path d="M304 744 L318 745.5 L318 764 L304 765.5Z" fill="none" stroke="#1a1a1a" stroke-width="0.7"/>
<circle cx="316" cy="754.5" r="1.1" fill="#333" stroke="#1a1a1a" stroke-width="0.6"/>
<ellipse cx="303" cy="794.5" rx="14.2" ry="8.8" fill="#fff" stroke="#1a1a1a" stroke-width="0.8"/>
<rect x="311.2" y="786" width="10" height="17" rx="3" fill="#fff" stroke="#1a1a1a" stroke-width="0.7"/>
<path d="M322.4 806.3 C303 806.5 279 818 276.2 851" fill="none" stroke="#1a1a1a" stroke-width="0.7"/>
<path d="M295 843 L305 843 L300 849Z" fill="none" stroke="#1a1a1a" stroke-width="0.7"/>
<circle cx="300" cy="840" r="1" fill="#fff" stroke="#1a1a1a" stroke-width="0.6"/>
<path d="M234.5 728 L328.5 728 L328.5 735.4 L239.4 735.4 L239.4 762.2 L234.5 762.2Z" fill="#fff"/>
<path clip-path="url(#c5)" d="M234.5 728.7L235.2 728M234.5 731.9L238.4 728M234.5 735.1L241.6 728M234.5 738.3L244.8 728M234.5 741.5L248 728M234.5 744.7L251.2 728M234.5 747.9L254.4 728M234.5 751.1L257.6 728M234.5 754.3L260.8 728M234.5 757.5L264 728M234.5 760.7L267.2 728M236.2 762.2L270.4 728M239.4 762.2L273.6 728M242.6 762.2L276.8 728M245.8 762.2L280 728M249 762.2L283.2 728M252.2 762.2L286.4 728M255.4 762.2L289.6 728M258.6 762.2L292.8 728M261.8 762.2L296 728M265 762.2L299.2 728M268.2 762.2L302.4 728M271.4 762.2L305.6 728M274.6 762.2L308.8 728M277.8 762.2L312 728M281 762.2L315.2 728M284.2 762.2L318.4 728M287.4 762.2L321.6 728M290.6 762.2L324.8 728M293.8 762.2L328 728M297 762.2L328.5 730.7M300.2 762.2L328.5 733.9M303.4 762.2L328.5 737.1M306.6 762.2L328.5 740.3M309.8 762.2L328.5 743.5M313 762.2L328.5 746.7M316.2 762.2L328.5 749.9M319.4 762.2L328.5 753.1M322.6 762.2L328.5 756.3M325.8 762.2L328.5 759.5" stroke="#222" stroke-width="0.95" fill="none"/>
<path d="M234.5 728 L328.5 728 L328.5 735.4 L239.4 735.4 L239.4 762.2 L234.5 762.2Z" fill="none" stroke="#1a1a1a" stroke-width="1"/>
<path d="M234.5 805.7 L239.4 805.7 L239.4 851.4 L328.5 851.4 L328.5 858 L234.5 858Z" fill="#fff"/>
<path clip-path="url(#c6)" d="M234.5 808.7L237.5 805.7M234.5 811.9L240.7 805.7M234.5 815.1L243.9 805.7M234.5 818.3L247.1 805.7M234.5 821.5L250.3 805.7M234.5 824.7L253.5 805.7M234.5 827.9L256.7 805.7M234.5 831.1L259.9 805.7M234.5 834.3L263.1 805.7M234.5 837.5L266.3 805.7M234.5 840.7L269.5 805.7M234.5 843.9L272.7 805.7M234.5 847.1L275.9 805.7M234.5 850.3L279.1 805.7M234.5 853.5L282.3 805.7M234.5 856.7L285.5 805.7M236.4 858L288.7 805.7M239.6 858L291.9 805.7M242.8 858L295.1 805.7M246 858L298.3 805.7M249.2 858L301.5 805.7M252.4 858L304.7 805.7M255.6 858L307.9 805.7M258.8 858L311.1 805.7M262 858L314.3 805.7M265.2 858L317.5 805.7M268.4 858L320.7 805.7M271.6 858L323.9 805.7M274.8 858L327.1 805.7M278 858L328.5 807.5M281.2 858L328.5 810.7M284.4 858L328.5 813.9M287.6 858L328.5 817.1M290.8 858L328.5 820.3M294 858L328.5 823.5M297.2 858L328.5 826.7M300.4 858L328.5 829.9M303.6 858L328.5 833.1M306.8 858L328.5 836.3M310 858L328.5 839.5M313.2 858L328.5 842.7M316.4 858L328.5 845.9M319.6 858L328.5 849.1M322.8 858L328.5 852.3M326 858L328.5 855.5" stroke="#222" stroke-width="0.95" fill="none"/>
<path d="M234.5 805.7 L239.4 805.7 L239.4 851.4 L328.5 851.4 L328.5 858 L234.5 858Z" fill="none" stroke="#1a1a1a" stroke-width="1"/>
<rect x="252.2" y="858" width="70.7" height="92.6" fill="#fff"/>
<line x1="260.2" y1="858" x2="260.2" y2="950.6" stroke="#3a3a3a" stroke-width="0.9"/>
<line x1="268.05" y1="858" x2="268.05" y2="950.6" stroke="#3a3a3a" stroke-width="0.9"/>
<line x1="275.9" y1="858" x2="275.9" y2="950.6" stroke="#3a3a3a" stroke-width="0.9"/>
<line x1="283.75" y1="858" x2="283.75" y2="950.6" stroke="#3a3a3a" stroke-width="0.9"/>
<line x1="291.6" y1="858" x2="291.6" y2="950.6" stroke="#3a3a3a" stroke-width="0.9"/>
<line x1="299.45" y1="858" x2="299.45" y2="950.6" stroke="#3a3a3a" stroke-width="0.9"/>
<line x1="307.3" y1="858" x2="307.3" y2="950.6" stroke="#3a3a3a" stroke-width="0.9"/>
<line x1="315.15" y1="858" x2="315.15" y2="950.6" stroke="#3a3a3a" stroke-width="0.9"/>
<line x1="252.2" y1="863.5" x2="322.9" y2="863.5" stroke="#3a3a3a" stroke-width="0.9"/>
<line x1="252.2" y1="871.35" x2="322.9" y2="871.35" stroke="#3a3a3a" stroke-width="0.9"/>
<line x1="252.2" y1="879.2" x2="322.9" y2="879.2" stroke="#3a3a3a" stroke-width="0.9"/>
<line x1="252.2" y1="887.05" x2="322.9" y2="887.05" stroke="#3a3a3a" stroke-width="0.9"/>
<line x1="252.2" y1="894.9" x2="322.9" y2="894.9" stroke="#3a3a3a" stroke-width="0.9"/>
<line x1="252.2" y1="902.75" x2="322.9" y2="902.75" stroke="#3a3a3a" stroke-width="0.9"/>
<line x1="252.2" y1="910.6" x2="322.9" y2="910.6" stroke="#3a3a3a" stroke-width="0.9"/>
<line x1="252.2" y1="918.45" x2="322.9" y2="918.45" stroke="#3a3a3a" stroke-width="0.9"/>
<line x1="252.2" y1="926.3" x2="322.9" y2="926.3" stroke="#3a3a3a" stroke-width="0.9"/>
<line x1="252.2" y1="934.15" x2="322.9" y2="934.15" stroke="#3a3a3a" stroke-width="0.9"/>
<line x1="252.2" y1="942" x2="322.9" y2="942" stroke="#3a3a3a" stroke-width="0.9"/>
<line x1="252.2" y1="949.85" x2="322.9" y2="949.85" stroke="#3a3a3a" stroke-width="0.9"/>
<rect x="253" y="858" width="35" height="28.2" fill="#fff" stroke="#1a1a1a" stroke-width="0.7"/>
<rect x="261.4" y="864.7" width="18.2" height="19.9" rx="2.5" fill="#fff" stroke="#1a1a1a" stroke-width="1.1"/>
<circle cx="270.5" cy="869.5" r="1.1" fill="#fff" stroke="#1a1a1a" stroke-width="0.6"/>
<rect x="289.6" y="858" width="29.9" height="30" fill="#fff" stroke="#1a1a1a" stroke-width="0.7"/>
<circle cx="294.5" cy="879.5" r="2.6" fill="#fff" stroke="#1a1a1a" stroke-width="0.6"/>
<circle cx="312.5" cy="879.5" r="2.6" fill="#fff" stroke="#1a1a1a" stroke-width="0.6"/>
<rect x="253" y="950.6" width="69.8" height="29.3" fill="#fff" stroke="#1a1a1a" stroke-width="0.7"/>
<line x1="258" y1="950.6" x2="258" y2="979.9" stroke="#1a1a1a" stroke-width="0.6"/>
<line x1="288" y1="950.6" x2="288" y2="979.9" stroke="#1a1a1a" stroke-width="0.7"/>
<line x1="318" y1="950.6" x2="318" y2="979.9" stroke="#444" stroke-width="0.6" stroke-dasharray="3 2"/>
<path d="M248 858H252.2V899.5H248Z" fill="#fff"/>
<path clip-path="url(#c7)" d="M248 859.2L249.2 858M248 862.4L252.2 858.2M248 865.6L252.2 861.4M248 868.8L252.2 864.6M248 872L252.2 867.8M248 875.2L252.2 871M248 878.4L252.2 874.2M248 881.6L252.2 877.4M248 884.8L252.2 880.6M248 888L252.2 883.8M248 891.2L252.2 887M248 894.4L252.2 890.2M248 897.6L252.2 893.4M249.3 899.5L252.2 896.6" stroke="#222" stroke-width="0.95" fill="none"/>
<path d="M248 858H252.2V899.5H248Z" fill="none" stroke="#1a1a1a" stroke-width="1"/>
<path d="M248 944H252.2V979.9H248Z" fill="#fff"/>
<path clip-path="url(#c8)" d="M248 945.6L249.6 944M248 948.8L252.2 944.6M248 952L252.2 947.8M248 955.2L252.2 951M248 958.4L252.2 954.2M248 961.6L252.2 957.4M248 964.8L252.2 960.6M248 968L252.2 963.8M248 971.2L252.2 967M248 974.4L252.2 970.2M248 977.6L252.2 973.4M248.9 979.9L252.2 976.6M252.1 979.9L252.2 979.8" stroke="#222" stroke-width="0.95" fill="none"/>
<path d="M248 944H252.2V979.9H248Z" fill="none" stroke="#1a1a1a" stroke-width="1"/>
<rect x="175.5" y="857.4" width="72.5" height="130.6" fill="#fff"/>
<line x1="182" y1="857.4" x2="182" y2="988" stroke="#3a3a3a" stroke-width="0.9"/>
<line x1="189.9" y1="857.4" x2="189.9" y2="988" stroke="#3a3a3a" stroke-width="0.9"/>
<line x1="197.8" y1="857.4" x2="197.8" y2="988" stroke="#3a3a3a" stroke-width="0.9"/>
<line x1="205.7" y1="857.4" x2="205.7" y2="988" stroke="#3a3a3a" stroke-width="0.9"/>
<line x1="213.6" y1="857.4" x2="213.6" y2="988" stroke="#3a3a3a" stroke-width="0.9"/>
<line x1="221.5" y1="857.4" x2="221.5" y2="988" stroke="#3a3a3a" stroke-width="0.9"/>
<line x1="229.4" y1="857.4" x2="229.4" y2="988" stroke="#3a3a3a" stroke-width="0.9"/>
<line x1="237.3" y1="857.4" x2="237.3" y2="988" stroke="#3a3a3a" stroke-width="0.9"/>
<line x1="245.2" y1="857.4" x2="245.2" y2="988" stroke="#3a3a3a" stroke-width="0.9"/>
<line x1="175.5" y1="862.9" x2="248" y2="862.9" stroke="#3a3a3a" stroke-width="0.9"/>
<line x1="175.5" y1="870.8" x2="248" y2="870.8" stroke="#3a3a3a" stroke-width="0.9"/>
<line x1="175.5" y1="878.7" x2="248" y2="878.7" stroke="#3a3a3a" stroke-width="0.9"/>
<line x1="175.5" y1="886.6" x2="248" y2="886.6" stroke="#3a3a3a" stroke-width="0.9"/>
<line x1="175.5" y1="894.5" x2="248" y2="894.5" stroke="#3a3a3a" stroke-width="0.9"/>
<line x1="175.5" y1="902.4" x2="248" y2="902.4" stroke="#3a3a3a" stroke-width="0.9"/>
<line x1="175.5" y1="910.3" x2="248" y2="910.3" stroke="#3a3a3a" stroke-width="0.9"/>
<line x1="175.5" y1="918.2" x2="248" y2="918.2" stroke="#3a3a3a" stroke-width="0.9"/>
<line x1="175.5" y1="926.1" x2="248" y2="926.1" stroke="#3a3a3a" stroke-width="0.9"/>
<line x1="175.5" y1="934" x2="248" y2="934" stroke="#3a3a3a" stroke-width="0.9"/>
<line x1="175.5" y1="941.9" x2="248" y2="941.9" stroke="#3a3a3a" stroke-width="0.9"/>
<line x1="175.5" y1="949.8" x2="248" y2="949.8" stroke="#3a3a3a" stroke-width="0.9"/>
<line x1="175.5" y1="957.7" x2="248" y2="957.7" stroke="#3a3a3a" stroke-width="0.9"/>
<line x1="175.5" y1="965.6" x2="248" y2="965.6" stroke="#3a3a3a" stroke-width="0.9"/>
<line x1="175.5" y1="973.5" x2="248" y2="973.5" stroke="#3a3a3a" stroke-width="0.9"/>
<line x1="175.5" y1="981.4" x2="248" y2="981.4" stroke="#3a3a3a" stroke-width="0.9"/>
<path d="M170.6 911H175.5V979.9H170.6Z" fill="#fff"/>
<path clip-path="url(#c9)" d="M170.6 911L170.6 911M170.6 914.2L173.8 911M170.6 917.4L175.5 912.5M170.6 920.6L175.5 915.7M170.6 923.8L175.5 918.9M170.6 927L175.5 922.1M170.6 930.2L175.5 925.3M170.6 933.4L175.5 928.5M170.6 936.6L175.5 931.7M170.6 939.8L175.5 934.9M170.6 943L175.5 938.1M170.6 946.2L175.5 941.3M170.6 949.4L175.5 944.5M170.6 952.6L175.5 947.7M170.6 955.8L175.5 950.9M170.6 959L175.5 954.1M170.6 962.2L175.5 957.3M170.6 965.4L175.5 960.5M170.6 968.6L175.5 963.7M170.6 971.8L175.5 966.9M170.6 975L175.5 970.1M170.6 978.2L175.5 973.3M172.1 979.9L175.5 976.5M175.3 979.9L175.5 979.7" stroke="#222" stroke-width="0.95" fill="none"/>
<path d="M170.6 911H175.5V979.9H170.6Z" fill="none" stroke="#1a1a1a" stroke-width="1"/>
<line x1="238.5" y1="862" x2="238.5" y2="900" stroke="#555" stroke-width="0.6" stroke-dasharray="3 2"/>
<path d="M35.5 455.3 L334.3 455.3 L334.3 997.5 L35.5 997.5Z M52.7 472.9 L52.7 847.6 L82.3 847.6 L82.3 857.4 L52.7 857.4 L52.7 979.9 L328.5 979.9 L328.5 472.9Z" fill="#fff" fill-rule="evenodd"/>
<path clip-path="url(#c10)" d="M35.5 457.3L37.5 455.3M35.5 460.5L40.7 455.3M35.5 463.7L43.9 455.3M35.5 466.9L47.1 455.3M35.5 470.1L50.3 455.3M35.5 473.3L53.5 455.3M35.5 476.5L56.7 455.3M35.5 479.7L59.9 455.3M35.5 482.9L63.1 455.3M35.5 486.1L66.3 455.3M35.5 489.3L69.5 455.3M35.5 492.5L72.7 455.3M35.5 495.7L75.9 455.3M35.5 498.9L79.1 455.3M35.5 502.1L82.3 455.3M35.5 505.3L85.5 455.3M35.5 508.5L88.7 455.3M35.5 511.7L91.9 455.3M35.5 514.9L95.1 455.3M35.5 518.1L98.3 455.3M35.5 521.3L101.5 455.3M35.5 524.5L104.7 455.3M35.5 527.7L107.9 455.3M35.5 530.9L111.1 455.3M35.5 534.1L114.3 455.3M35.5 537.3L117.5 455.3M35.5 540.5L120.7 455.3M35.5 543.7L123.9 455.3M35.5 546.9L127.1 455.3M35.5 550.1L130.3 455.3M35.5 553.3L133.5 455.3M35.5 556.5L136.7 455.3M35.5 559.7L139.9 455.3M35.5 562.9L143.1 455.3M35.5 566.1L146.3 455.3M35.5 569.3L149.5 455.3M35.5 572.5L152.7 455.3M35.5 575.7L155.9 455.3M35.5 578.9L159.1 455.3M35.5 582.1L162.3 455.3M35.5 585.3L165.5 455.3M35.5 588.5L168.7 455.3M35.5 591.7L171.9 455.3M35.5 594.9L175.1 455.3M35.5 598.1L178.3 455.3M35.5 601.3L181.5 455.3M35.5 604.5L184.7 455.3M35.5 607.7L187.9 455.3M35.5 610.9L191.1 455.3M35.5 614.1L194.3 455.3M35.5 617.3L197.5 455.3M35.5 620.5L200.7 455.3M35.5 623.7L203.9 455.3M35.5 626.9L207.1 455.3M35.5 630.1L210.3 455.3M35.5 633.3L213.5 455.3M35.5 636.5L216.7 455.3M35.5 639.7L219.9 455.3M35.5 642.9L223.1 455.3M35.5 646.1L226.3 455.3M35.5 649.3L229.5 455.3M35.5 652.5L232.7 455.3M35.5 655.7L235.9 455.3M35.5 658.9L239.1 455.3M35.5 662.1L242.3 455.3M35.5 665.3L245.5 455.3M35.5 668.5L248.7 455.3M35.5 671.7L251.9 455.3M35.5 674.9L255.1 455.3M35.5 678.1L258.3 455.3M35.5 681.3L261.5 455.3M35.5 684.5L264.7 455.3M35.5 687.7L267.9 455.3M35.5 690.9L271.1 455.3M35.5 694.1L274.3 455.3M35.5 697.3L277.5 455.3M35.5 700.5L280.7 455.3M35.5 703.7L283.9 455.3M35.5 706.9L287.1 455.3M35.5 710.1L290.3 455.3M35.5 713.3L293.5 455.3M35.5 716.5L296.7 455.3M35.5 719.7L299.9 455.3M35.5 722.9L303.1 455.3M35.5 726.1L306.3 455.3M35.5 729.3L309.5 455.3M35.5 732.5L312.7 455.3M35.5 735.7L315.9 455.3M35.5 738.9L319.1 455.3M35.5 742.1L322.3 455.3M35.5 745.3L325.5 455.3M35.5 748.5L328.7 455.3M35.5 751.7L331.9 455.3M35.5 754.9L334.3 456.1M35.5 758.1L334.3 459.3M35.5 761.3L334.3 462.5M35.5 764.5L334.3 465.7M35.5 767.7L334.3 468.9M35.5 770.9L334.3 472.1M35.5 774.1L334.3 475.3M35.5 777.3L334.3 478.5M35.5 780.5L334.3 481.7M35.5 783.7L334.3 484.9M35.5 786.9L334.3 488.1M35.5 790.1L334.3 491.3M35.5 793.3L334.3 494.5M35.5 796.5L334.3 497.7M35.5 799.7L334.3 500.9M35.5 802.9L334.3 504.1M35.5 806.1L334.3 507.3M35.5 809.3L334.3 510.5M35.5 812.5L334.3 513.7M35.5 815.7L334.3 516.9M35.5 818.9L334.3 520.1M35.5 822.1L334.3 523.3M35.5 825.3L334.3 526.5M35.5 828.5L334.3 529.7M35.5 831.7L334.3 532.9M35.5 834.9L334.3 536.1M35.5 838.1L334.3 539.3M35.5 841.3L334.3 542.5M35.5 844.5L334.3 545.7M35.5 847.7L334.3 548.9M35.5 850.9L334.3 552.1M35.5 854.1L334.3 555.3M35.5 857.3L334.3 558.5M35.5 860.5L334.3 561.7M35.5 863.7L334.3 564.9M35.5 866.9L334.3 568.1M35.5 870.1L334.3 571.3M35.5 873.3L334.3 574.5M35.5 876.5L334.3 577.7M35.5 879.7L334.3 580.9M35.5 882.9L334.3 584.1M35.5 886.1L334.3 587.3M35.5 889.3L334.3 590.5M35.5 892.5L334.3 593.7M35.5 895.7L334.3 596.9M35.5 898.9L334.3 600.1M35.5 902.1L334.3 603.3M35.5 905.3L334.3 606.5M35.5 908.5L334.3 609.7M35.5 911.7L334.3 612.9M35.5 914.9L334.3 616.1M35.5 918.1L334.3 619.3M35.5 921.3L334.3 622.5M35.5 924.5L334.3 625.7M35.5 927.7L334.3 628.9M35.5 930.9L334.3 632.1M35.5 934.1L334.3 635.3M35.5 937.3L334.3 638.5M35.5 940.5L334.3 641.7M35.5 943.7L334.3 644.9M35.5 946.9L334.3 648.1M35.5 950.1L334.3 651.3M35.5 953.3L334.3 654.5M35.5 956.5L334.3 657.7M35.5 959.7L334.3 660.9M35.5 962.9L334.3 664.1M35.5 966.1L334.3 667.3M35.5 969.3L334.3 670.5M35.5 972.5L334.3 673.7M35.5 975.7L334.3 676.9M35.5 978.9L334.3 680.1M35.5 982.1L334.3 683.3M35.5 985.3L334.3 686.5M35.5 988.5L334.3 689.7M35.5 991.7L334.3 692.9M35.5 994.9L334.3 696.1M36.1 997.5L334.3 699.3M39.3 997.5L334.3 702.5M42.5 997.5L334.3 705.7M45.7 997.5L334.3 708.9M48.9 997.5L334.3 712.1M52.1 997.5L334.3 715.3M55.3 997.5L334.3 718.5M58.5 997.5L334.3 721.7M61.7 997.5L334.3 724.9M64.9 997.5L334.3 728.1M68.1 997.5L334.3 731.3M71.3 997.5L334.3 734.5M74.5 997.5L334.3 737.7M77.7 997.5L334.3 740.9M80.9 997.5L334.3 744.1M84.1 997.5L334.3 747.3M87.3 997.5L334.3 750.5M90.5 997.5L334.3 753.7M93.7 997.5L334.3 756.9M96.9 997.5L334.3 760.1M100.1 997.5L334.3 763.3M103.3 997.5L334.3 766.5M106.5 997.5L334.3 769.7M109.7 997.5L334.3 772.9M112.9 997.5L334.3 776.1M116.1 997.5L334.3 779.3M119.3 997.5L334.3 782.5M122.5 997.5L334.3 785.7M125.7 997.5L334.3 788.9M128.9 997.5L334.3 792.1M132.1 997.5L334.3 795.3M135.3 997.5L334.3 798.5M138.5 997.5L334.3 801.7M141.7 997.5L334.3 804.9M144.9 997.5L334.3 808.1M148.1 997.5L334.3 811.3M151.3 997.5L334.3 814.5M154.5 997.5L334.3 817.7M157.7 997.5L334.3 820.9M160.9 997.5L334.3 824.1M164.1 997.5L334.3 827.3M167.3 997.5L334.3 830.5M170.5 997.5L334.3 833.7M173.7 997.5L334.3 836.9M176.9 997.5L334.3 840.1M180.1 997.5L334.3 843.3M183.3 997.5L334.3 846.5M186.5 997.5L334.3 849.7M189.7 997.5L334.3 852.9M192.9 997.5L334.3 856.1M196.1 997.5L334.3 859.3M199.3 997.5L334.3 862.5M202.5 997.5L334.3 865.7M205.7 997.5L334.3 868.9M208.9 997.5L334.3 872.1M212.1 997.5L334.3 875.3M215.3 997.5L334.3 878.5M218.5 997.5L334.3 881.7M221.7 997.5L334.3 884.9M224.9 997.5L334.3 888.1M228.1 997.5L334.3 891.3M231.3 997.5L334.3 894.5M234.5 997.5L334.3 897.7M237.7 997.5L334.3 900.9M240.9 997.5L334.3 904.1M244.1 997.5L334.3 907.3M247.3 997.5L334.3 910.5M250.5 997.5L334.3 913.7M253.7 997.5L334.3 916.9M256.9 997.5L334.3 920.1M260.1 997.5L334.3 923.3M263.3 997.5L334.3 926.5M266.5 997.5L334.3 929.7M269.7 997.5L334.3 932.9M272.9 997.5L334.3 936.1M276.1 997.5L334.3 939.3M279.3 997.5L334.3 942.5M282.5 997.5L334.3 945.7M285.7 997.5L334.3 948.9M288.9 997.5L334.3 952.1M292.1 997.5L334.3 955.3M295.3 997.5L334.3 958.5M298.5 997.5L334.3 961.7M301.7 997.5L334.3 964.9M304.9 997.5L334.3 968.1M308.1 997.5L334.3 971.3M311.3 997.5L334.3 974.5M314.5 997.5L334.3 977.7M317.7 997.5L334.3 980.9M320.9 997.5L334.3 984.1M324.1 997.5L334.3 987.3M327.3 997.5L334.3 990.5M330.5 997.5L334.3 993.7M333.7 997.5L334.3 996.9" stroke="#222" stroke-width="0.95" fill="none"/>
<path d="M35.5 455.3 L334.3 455.3 L334.3 997.5 L35.5 997.5Z M52.7 472.9 L52.7 847.6 L82.3 847.6 L82.3 857.4 L52.7 857.4 L52.7 979.9 L328.5 979.9 L328.5 472.9Z" fill="none" fill-rule="evenodd" stroke="#1a1a1a" stroke-width="1.3"/>
<rect x="101.3" y="454.1" width="49.8" height="21.3" fill="#fff"/>
<rect x="101.3" y="454.1" width="49.8" height="21.3" fill="#fff" stroke="#1a1a1a" stroke-width="0.7"/>
<rect x="103.6" y="457.8" width="45.2" height="6" fill="none" stroke="#1a1a1a" stroke-width="0.7"/>
<line x1="103.6" y1="460.8" x2="148.8" y2="460.8" stroke="#1a1a1a" stroke-width="0.6"/>
<line x1="101.3" y1="456.5" x2="151.1" y2="456.5" stroke="#1a1a1a" stroke-width="0.6"/>
<rect x="230.1" y="454.1" width="49.3" height="21.3" fill="#fff"/>
<rect x="230.1" y="454.1" width="49.3" height="21.3" fill="#fff" stroke="#1a1a1a" stroke-width="0.7"/>
<rect x="232.4" y="457.8" width="44.7" height="6" fill="none" stroke="#1a1a1a" stroke-width="0.7"/>
<line x1="232.4" y1="460.8" x2="277.1" y2="460.8" stroke="#1a1a1a" stroke-width="0.6"/>
<line x1="230.1" y1="456.5" x2="279.4" y2="456.5" stroke="#1a1a1a" stroke-width="0.6"/>
<rect x="86.6" y="977.4" width="50.4" height="21.3" fill="#fff"/>
<rect x="86.6" y="977.4" width="50.4" height="21.3" fill="#fff" stroke="#1a1a1a" stroke-width="0.7"/>
<rect x="88.9" y="989" width="45.8" height="6" fill="none" stroke="#1a1a1a" stroke-width="0.7"/>
<line x1="88.9" y1="992" x2="134.7" y2="992" stroke="#1a1a1a" stroke-width="0.6"/>
<line x1="86.6" y1="996.3" x2="137" y2="996.3" stroke="#1a1a1a" stroke-width="0.6"/>
<rect x="264.7" y="977.4" width="29.1" height="21.3" fill="#fff"/>
<rect x="264.7" y="977.4" width="29.1" height="21.3" fill="#fff" stroke="#1a1a1a" stroke-width="0.7"/>
<rect x="267" y="989" width="24.5" height="6" fill="none" stroke="#1a1a1a" stroke-width="0.7"/>
<line x1="267" y1="992" x2="291.5" y2="992" stroke="#1a1a1a" stroke-width="0.6"/>
<line x1="264.7" y1="996.3" x2="293.8" y2="996.3" stroke="#1a1a1a" stroke-width="0.6"/>
<rect x="34.3" y="624.4" width="18.4" height="24" fill="#fff"/>
<rect x="34.3" y="624.4" width="18.4" height="24" fill="#fff" stroke="#1a1a1a" stroke-width="0.7"/>
<rect x="38" y="626.7" width="6" height="19.4" fill="none" stroke="#1a1a1a" stroke-width="0.7"/>
<line x1="41" y1="626.7" x2="41" y2="646.1" stroke="#1a1a1a" stroke-width="0.6"/>
<rect x="34.3" y="744.5" width="18.4" height="103.1" fill="#fff"/>
<rect x="34.3" y="744.5" width="18.4" height="103.1" fill="#fff" stroke="#1a1a1a" stroke-width="0.7"/>
<rect x="38" y="746.8" width="6" height="98.5" fill="none" stroke="#1a1a1a" stroke-width="0.7"/>
<line x1="41" y1="746.8" x2="41" y2="845.3" stroke="#1a1a1a" stroke-width="0.6"/>
<rect x="166.3" y="454.3" width="48.3" height="19.6" fill="#fff"/>
<line x1="166.3" y1="455.3" x2="166.3" y2="472.9" stroke="#1a1a1a" stroke-width="0.7"/>
<line x1="214.6" y1="455.3" x2="214.6" y2="472.9" stroke="#1a1a1a" stroke-width="0.7"/>
<line x1="166.3" y1="472.9" x2="214.6" y2="472.9" stroke="#1a1a1a" stroke-width="0.7"/>
<line x1="168.2" y1="455.6" x2="212.6" y2="455.6" stroke="#1a1a1a" stroke-width="0.6"/>
<line x1="168.2" y1="458.6" x2="212.6" y2="458.6" stroke="#1a1a1a" stroke-width="0.6"/>
<line x1="168.2" y1="461.5" x2="212.6" y2="461.5" stroke="#1a1a1a" stroke-width="0.6"/>
<line x1="168.2" y1="464.4" x2="212.6" y2="464.4" stroke="#1a1a1a" stroke-width="0.6"/>
<line x1="168.2" y1="455.6" x2="168.2" y2="464.4" stroke="#1a1a1a" stroke-width="0.6"/>
<line x1="212.6" y1="455.6" x2="212.6" y2="464.4" stroke="#1a1a1a" stroke-width="0.6"/>
<line x1="212.6" y1="459" x2="212.6" y2="414.6" stroke="#1a1a1a" stroke-width="0.7"/>
<path d="M212.6 414.6 A44.4 44.4 0 0 0 168.2 459" fill="none" stroke="#1a1a1a" stroke-width="0.7"/>
<rect x="187.4" y="979.9" width="49" height="18.6" fill="#fff"/>
<rect x="187.4" y="980.4" width="49" height="7.6" fill="#fff"/>
<line x1="189.9" y1="980.4" x2="189.9" y2="988" stroke="#3a3a3a" stroke-width="0.9"/>
<line x1="197.8" y1="980.4" x2="197.8" y2="988" stroke="#3a3a3a" stroke-width="0.9"/>
<line x1="205.7" y1="980.4" x2="205.7" y2="988" stroke="#3a3a3a" stroke-width="0.9"/>
<line x1="213.6" y1="980.4" x2="213.6" y2="988" stroke="#3a3a3a" stroke-width="0.9"/>
<line x1="221.5" y1="980.4" x2="221.5" y2="988" stroke="#3a3a3a" stroke-width="0.9"/>
<line x1="229.4" y1="980.4" x2="229.4" y2="988" stroke="#3a3a3a" stroke-width="0.9"/>
<line x1="187.4" y1="981.4" x2="236.4" y2="981.4" stroke="#3a3a3a" stroke-width="0.9"/>
<line x1="187.4" y1="979.9" x2="187.4" y2="997.5" stroke="#1a1a1a" stroke-width="0.7"/>
<line x1="236.4" y1="979.9" x2="236.4" y2="997.5" stroke="#1a1a1a" stroke-width="0.7"/>
<rect x="187.4" y="988" width="49" height="9.5" fill="none" stroke="#1a1a1a" stroke-width="0.7"/>
<line x1="187.4" y1="990.5" x2="236.4" y2="990.5" stroke="#1a1a1a" stroke-width="0.6"/>
<line x1="234.5" y1="993" x2="234.5" y2="1037.5" stroke="#1a1a1a" stroke-width="0.7"/>
<path d="M234.5 1037.5 A44.5 44.5 0 0 1 190 993" fill="none" stroke="#1a1a1a" stroke-width="0.7"/>
<line x1="249.7" y1="719.6" x2="220" y2="719.6" stroke="#1a1a1a" stroke-width="0.7"/>
<path d="M220 719.6 A29.7 29.7 0 0 1 249.7 689.9" fill="none" stroke="#1a1a1a" stroke-width="0.7"/>
<line x1="234.8" y1="804" x2="196.2" y2="804" stroke="#1a1a1a" stroke-width="0.7"/>
<path d="M196.2 804 A38.6 38.6 0 0 1 234.8 765.4" fill="none" stroke="#1a1a1a" stroke-width="0.7"/>
<line x1="248" y1="941.5" x2="210" y2="941.5" stroke="#1a1a1a" stroke-width="0.7"/>
<path d="M210 941.5 A38 38 0 0 1 248 903.5" fill="none" stroke="#1a1a1a" stroke-width="0.7"/>
<text x="171.3" y="633.2" font-size="10.2" text-anchor="start" font-weight="normal" fill="#1a1a1a" textLength="69.8" lengthAdjust="spacingAndGlyphs">VARDAGSRUM</text>
<text x="99.3" y="774.2" font-size="10.2" text-anchor="start" font-weight="normal" fill="#1a1a1a" textLength="21" lengthAdjust="spacingAndGlyphs">KÖK</text>
<text x="271.3" y="700.5" font-size="10.2" text-anchor="start" font-weight="normal" fill="#1a1a1a" textLength="25.3" lengthAdjust="spacingAndGlyphs">STÄD</text>
<text x="269.5" y="762.2" font-size="10.2" text-anchor="middle" font-weight="normal" fill="#1a1a1a">WC/</text>
<text x="268.5" y="774" font-size="10.2" text-anchor="middle" font-weight="normal" fill="#1a1a1a" textLength="35" lengthAdjust="spacingAndGlyphs">DUSCH</text>
<text x="156.6" y="777.3" font-size="10.2" text-anchor="middle" font-weight="normal" fill="#1a1a1a">K</text>
<text x="156.6" y="806.6" font-size="10.2" text-anchor="middle" font-weight="normal" fill="#1a1a1a">F</text>
<text x="161.2" y="841.2" font-size="10.2" text-anchor="middle" font-weight="normal" fill="#1a1a1a">G</text>
<text x="58.3" y="834" font-size="10.2" text-anchor="start" font-weight="normal" fill="#1a1a1a">DM</text>
<text x="83.7" y="877.9" font-size="10.2" text-anchor="start" font-weight="normal" fill="#1a1a1a" textLength="50.2" lengthAdjust="spacingAndGlyphs">MATPLATS</text>
<text x="304.5" y="872.5" font-size="10.2" text-anchor="middle" font-weight="normal" fill="#1a1a1a">VP</text>
<text x="271.7" y="918.6" font-size="10.2" text-anchor="start" font-weight="normal" fill="#1a1a1a" textLength="28.7" lengthAdjust="spacingAndGlyphs">TVÄTT</text>
<text x="193.3" y="967.2" font-size="10.2" text-anchor="start" font-weight="normal" fill="#1a1a1a" textLength="31.5" lengthAdjust="spacingAndGlyphs">ENTRÉ</text>
<text x="271.5" y="967.2" font-size="10.2" text-anchor="middle" font-weight="normal" fill="#1a1a1a">TT</text>
<text x="302" y="967.2" font-size="10.2" text-anchor="middle" font-weight="normal" fill="#1a1a1a">TM</text>
<g transform="translate(125.14 943.14) rotate(-45)"><path d="M-11.8 0 A11.8 17 0 0 0 11.8 0Z" fill="#fff" stroke="#1a1a1a" stroke-width="0.8"/><path d="M-14.3 12.24 Q0 20.74 14.3 12.24" fill="none" stroke="#1a1a1a" stroke-width="1.1"/><path d="M-14.3 12.24 l3.5 -2.5 l1 3.2 M14.3 12.24 l-3.5 -2.5 l-1 3.2" fill="none" stroke="#1a1a1a" stroke-width="0.7"/></g>
<g transform="translate(96.86 943.14) rotate(45)"><path d="M-11.8 0 A11.8 17 0 0 0 11.8 0Z" fill="#fff" stroke="#1a1a1a" stroke-width="0.8"/><path d="M-14.3 12.24 Q0 20.74 14.3 12.24" fill="none" stroke="#1a1a1a" stroke-width="1.1"/><path d="M-14.3 12.24 l3.5 -2.5 l1 3.2 M14.3 12.24 l-3.5 -2.5 l-1 3.2" fill="none" stroke="#1a1a1a" stroke-width="0.7"/></g>
<g transform="translate(96.86 914.86) rotate(135)"><path d="M-11.8 0 A11.8 17 0 0 0 11.8 0Z" fill="#fff" stroke="#1a1a1a" stroke-width="0.8"/><path d="M-14.3 12.24 Q0 20.74 14.3 12.24" fill="none" stroke="#1a1a1a" stroke-width="1.1"/><path d="M-14.3 12.24 l3.5 -2.5 l1 3.2 M14.3 12.24 l-3.5 -2.5 l-1 3.2" fill="none" stroke="#1a1a1a" stroke-width="0.7"/></g>
<g transform="translate(125.14 914.86) rotate(225)"><path d="M-11.8 0 A11.8 17 0 0 0 11.8 0Z" fill="#fff" stroke="#1a1a1a" stroke-width="0.8"/><path d="M-14.3 12.24 Q0 20.74 14.3 12.24" fill="none" stroke="#1a1a1a" stroke-width="1.1"/><path d="M-14.3 12.24 l3.5 -2.5 l1 3.2 M14.3 12.24 l-3.5 -2.5 l-1 3.2" fill="none" stroke="#1a1a1a" stroke-width="0.7"/></g>
<circle cx="111" cy="929" r="24.4" fill="#fff" stroke="#1a1a1a" stroke-width="0.8"/>
<rect x="379.6" y="473.3" width="275.4" height="506.7" fill="#fff"/>
<line x1="382.2" y1="473.3" x2="382.2" y2="980" stroke="#2a2a2a" stroke-width="0.75"/>
<line x1="390.04" y1="473.3" x2="390.04" y2="980" stroke="#2a2a2a" stroke-width="0.75"/>
<line x1="397.88" y1="473.3" x2="397.88" y2="980" stroke="#2a2a2a" stroke-width="0.75"/>
<line x1="405.72" y1="473.3" x2="405.72" y2="980" stroke="#2a2a2a" stroke-width="0.75"/>
<line x1="413.56" y1="473.3" x2="413.56" y2="980" stroke="#2a2a2a" stroke-width="0.75"/>
<line x1="421.4" y1="473.3" x2="421.4" y2="980" stroke="#2a2a2a" stroke-width="0.75"/>
<line x1="429.24" y1="473.3" x2="429.24" y2="980" stroke="#2a2a2a" stroke-width="0.75"/>
<line x1="437.08" y1="473.3" x2="437.08" y2="980" stroke="#2a2a2a" stroke-width="0.75"/>
<line x1="444.92" y1="473.3" x2="444.92" y2="980" stroke="#2a2a2a" stroke-width="0.75"/>
<line x1="452.76" y1="473.3" x2="452.76" y2="980" stroke="#2a2a2a" stroke-width="0.75"/>
<line x1="460.6" y1="473.3" x2="460.6" y2="980" stroke="#2a2a2a" stroke-width="0.75"/>
<line x1="468.44" y1="473.3" x2="468.44" y2="980" stroke="#2a2a2a" stroke-width="0.75"/>
<line x1="476.28" y1="473.3" x2="476.28" y2="980" stroke="#2a2a2a" stroke-width="0.75"/>
<line x1="484.12" y1="473.3" x2="484.12" y2="980" stroke="#2a2a2a" stroke-width="0.75"/>
<line x1="491.96" y1="473.3" x2="491.96" y2="980" stroke="#2a2a2a" stroke-width="0.75"/>
<line x1="499.8" y1="473.3" x2="499.8" y2="980" stroke="#2a2a2a" stroke-width="0.75"/>
<line x1="507.64" y1="473.3" x2="507.64" y2="980" stroke="#2a2a2a" stroke-width="0.75"/>
<line x1="515.48" y1="473.3" x2="515.48" y2="980" stroke="#2a2a2a" stroke-width="0.75"/>
<line x1="523.32" y1="473.3" x2="523.32" y2="980" stroke="#2a2a2a" stroke-width="0.75"/>
<line x1="531.16" y1="473.3" x2="531.16" y2="980" stroke="#2a2a2a" stroke-width="0.75"/>
<line x1="539" y1="473.3" x2="539" y2="980" stroke="#2a2a2a" stroke-width="0.75"/>
<line x1="546.84" y1="473.3" x2="546.84" y2="980" stroke="#2a2a2a" stroke-width="0.75"/>
<line x1="554.68" y1="473.3" x2="554.68" y2="980" stroke="#2a2a2a" stroke-width="0.75"/>
<line x1="562.52" y1="473.3" x2="562.52" y2="980" stroke="#2a2a2a" stroke-width="0.75"/>
<line x1="570.36" y1="473.3" x2="570.36" y2="980" stroke="#2a2a2a" stroke-width="0.75"/>
<line x1="578.2" y1="473.3" x2="578.2" y2="980" stroke="#2a2a2a" stroke-width="0.75"/>
<line x1="586.04" y1="473.3" x2="586.04" y2="980" stroke="#2a2a2a" stroke-width="0.75"/>
<line x1="593.88" y1="473.3" x2="593.88" y2="980" stroke="#2a2a2a" stroke-width="0.75"/>
<line x1="601.72" y1="473.3" x2="601.72" y2="980" stroke="#2a2a2a" stroke-width="0.75"/>
<line x1="609.56" y1="473.3" x2="609.56" y2="980" stroke="#2a2a2a" stroke-width="0.75"/>
<line x1="617.4" y1="473.3" x2="617.4" y2="980" stroke="#2a2a2a" stroke-width="0.75"/>
<line x1="625.24" y1="473.3" x2="625.24" y2="980" stroke="#2a2a2a" stroke-width="0.75"/>
<line x1="633.08" y1="473.3" x2="633.08" y2="980" stroke="#2a2a2a" stroke-width="0.75"/>
<line x1="640.92" y1="473.3" x2="640.92" y2="980" stroke="#2a2a2a" stroke-width="0.75"/>
<line x1="648.76" y1="473.3" x2="648.76" y2="980" stroke="#2a2a2a" stroke-width="0.75"/>
<rect x="379.6" y="476" width="45.5" height="103.2" fill="#fff" stroke="#1a1a1a" stroke-width="0.8"/>
<rect x="390.2" y="481.2" width="25.4" height="15.3" fill="#fff" stroke="#1a1a1a" stroke-width="0.7"/>
<path d="M379.6 501.5 L412.5 501.5 L425.1 514 M412.5 501.5 L412.5 514 L425.1 514" fill="none" stroke="#1a1a1a" stroke-width="0.7"/>
<rect x="427.3" y="476" width="19.4" height="20.5" fill="#fff" stroke="#1a1a1a" stroke-width="0.7"/>
<rect x="491.5" y="483.2" width="29.6" height="55.2" fill="#fff" stroke="#1a1a1a" stroke-width="0.8"/>
<circle cx="477.6" cy="509" r="11" fill="#fff" stroke="#1a1a1a" stroke-width="0.8"/>
<path d="M468 498 l3 -4 M464 518 l-3 2 M487 502 l3 -2 M484 520 l1 3" fill="none" stroke="#1a1a1a" stroke-width="1"/>
<path d="M469.5 497 A13 13 0 0 0 466 516" fill="none" stroke="#1a1a1a" stroke-width="1.1"/>
<rect x="379.6" y="589.5" width="29.4" height="29.1" fill="#fff" stroke="#1a1a1a" stroke-width="0.7"/>
<rect x="527.4" y="483.2" width="29.9" height="55.2" fill="#fff" stroke="#1a1a1a" stroke-width="0.8"/>
<circle cx="571.4" cy="509" r="11" fill="#fff" stroke="#1a1a1a" stroke-width="0.8"/>
<path d="M580 498 l-3 -4 M584 518 l3 2 M561 502 l-3 -2 M564 520 l-1 3" fill="none" stroke="#1a1a1a" stroke-width="1"/>
<path d="M578.5 497 A13 13 0 0 1 582 516" fill="none" stroke="#1a1a1a" stroke-width="1.1"/>
<rect x="588" y="476" width="19.6" height="20.5" fill="#fff" stroke="#1a1a1a" stroke-width="0.7"/>
<rect x="609.6" y="476" width="45.4" height="103.2" fill="#fff" stroke="#1a1a1a" stroke-width="0.8"/>
<rect x="619.3" y="481.2" width="25.6" height="15.3" fill="#fff" stroke="#1a1a1a" stroke-width="0.7"/>
<path d="M655 501.5 L622 501.5 L609.6 514 M622 501.5 L622 514 L609.6 514" fill="none" stroke="#1a1a1a" stroke-width="0.7"/>
<rect x="625.9" y="589.5" width="29.1" height="29.1" fill="#fff" stroke="#1a1a1a" stroke-width="0.7"/>
<rect x="379.6" y="625" width="89.2" height="102.9" fill="#fff"/>
<line x1="390.7" y1="625" x2="390.7" y2="727.9" stroke="#3a3a3a" stroke-width="0.9"/>
<line x1="398.52" y1="625" x2="398.52" y2="727.9" stroke="#3a3a3a" stroke-width="0.9"/>
<line x1="406.34" y1="625" x2="406.34" y2="727.9" stroke="#3a3a3a" stroke-width="0.9"/>
<line x1="414.16" y1="625" x2="414.16" y2="727.9" stroke="#3a3a3a" stroke-width="0.9"/>
<line x1="421.98" y1="625" x2="421.98" y2="727.9" stroke="#3a3a3a" stroke-width="0.9"/>
<line x1="429.8" y1="625" x2="429.8" y2="727.9" stroke="#3a3a3a" stroke-width="0.9"/>
<line x1="437.62" y1="625" x2="437.62" y2="727.9" stroke="#3a3a3a" stroke-width="0.9"/>
<line x1="445.44" y1="625" x2="445.44" y2="727.9" stroke="#3a3a3a" stroke-width="0.9"/>
<line x1="453.26" y1="625" x2="453.26" y2="727.9" stroke="#3a3a3a" stroke-width="0.9"/>
<line x1="461.08" y1="625" x2="461.08" y2="727.9" stroke="#3a3a3a" stroke-width="0.9"/>
<line x1="379.6" y1="629.4" x2="468.8" y2="629.4" stroke="#3a3a3a" stroke-width="0.9"/>
<line x1="379.6" y1="637.22" x2="468.8" y2="637.22" stroke="#3a3a3a" stroke-width="0.9"/>
<line x1="379.6" y1="645.04" x2="468.8" y2="645.04" stroke="#3a3a3a" stroke-width="0.9"/>
<line x1="379.6" y1="652.86" x2="468.8" y2="652.86" stroke="#3a3a3a" stroke-width="0.9"/>
<line x1="379.6" y1="660.68" x2="468.8" y2="660.68" stroke="#3a3a3a" stroke-width="0.9"/>
<line x1="379.6" y1="668.5" x2="468.8" y2="668.5" stroke="#3a3a3a" stroke-width="0.9"/>
<line x1="379.6" y1="676.32" x2="468.8" y2="676.32" stroke="#3a3a3a" stroke-width="0.9"/>
<line x1="379.6" y1="684.14" x2="468.8" y2="684.14" stroke="#3a3a3a" stroke-width="0.9"/>
<line x1="379.6" y1="691.96" x2="468.8" y2="691.96" stroke="#3a3a3a" stroke-width="0.9"/>
<line x1="379.6" y1="699.78" x2="468.8" y2="699.78" stroke="#3a3a3a" stroke-width="0.9"/>
<line x1="379.6" y1="707.6" x2="468.8" y2="707.6" stroke="#3a3a3a" stroke-width="0.9"/>
<line x1="379.6" y1="715.42" x2="468.8" y2="715.42" stroke="#3a3a3a" stroke-width="0.9"/>
<line x1="379.6" y1="723.24" x2="468.8" y2="723.24" stroke="#3a3a3a" stroke-width="0.9"/>
<ellipse cx="403" cy="642" rx="15.5" ry="8.7" fill="#fff" stroke="#1a1a1a" stroke-width="0.8"/>
<rect x="384" y="633" width="13" height="17.5" rx="4" fill="#fff" stroke="#1a1a1a" stroke-width="0.7"/>
<line x1="396.5" y1="633.5" x2="396.5" y2="650.5" stroke="#1a1a1a" stroke-width="0.7"/>
<rect x="384.9" y="657.3" width="21.6" height="28.2" fill="#fff" stroke="#1a1a1a" stroke-width="0.7"/>
<path d="M390 659.5 L404 660.5 L404 683 L390 684 Z" fill="none" stroke="#1a1a1a" stroke-width="0.7"/>
<circle cx="395" cy="671.5" r="1.1" fill="#333" stroke="#1a1a1a" stroke-width="0.6"/>
<rect x="385.7" y="692.2" width="78.9" height="34" fill="#fff" stroke="#1a1a1a" stroke-width="0.8"/>
<path d="M394 696 L441 695.5 C456 695.5 462 702 462 709 C462 717 456 723 441 723 L394 722.5 C389 722 388 716 388 709 C388 702 389 696.5 394 696 Z" fill="none" stroke="#1a1a1a" stroke-width="0.8"/>
<path d="M441 695.5 C446 699 447 704 447 709 C447 715 446 719 441 723" fill="none" stroke="#1a1a1a" stroke-width="0.6"/>
<rect x="379.9" y="734.9" width="8" height="6.3" fill="#fff" stroke="#1a1a1a" stroke-width="0.7"/>
<line x1="392.9" y1="742" x2="392.9" y2="781.9" stroke="#444" stroke-width="0.6" stroke-dasharray="4 2 1 2"/>
<line x1="392.9" y1="781.9" x2="468.8" y2="781.9" stroke="#444" stroke-width="0.6" stroke-dasharray="4 2 1 2"/>
<line x1="379.6" y1="816.1" x2="468.8" y2="816.1" stroke="#444" stroke-width="0.6" stroke-dasharray="4 2 1 2"/>
<rect x="379.6" y="829.6" width="89.2" height="3.6" fill="#fff"/>
<line x1="379.6" y1="830" x2="468.8" y2="830" stroke="#1a1a1a" stroke-width="0.7"/>
<line x1="379.6" y1="832.8" x2="468.8" y2="832.8" stroke="#1a1a1a" stroke-width="0.7"/>
<rect x="381.6" y="841" width="19.1" height="19.5" fill="#fff" stroke="#1a1a1a" stroke-width="0.7"/>
<rect x="381.6" y="952.3" width="19.1" height="19.9" fill="#fff" stroke="#1a1a1a" stroke-width="0.7"/>
<rect x="379.6" y="862.7" width="105" height="88.4" fill="#fff" stroke="#1a1a1a" stroke-width="0.8"/>
<line x1="405.7" y1="862.7" x2="405.7" y2="951.1" stroke="#1a1a1a" stroke-width="0.7"/>
<rect x="385.7" y="872.1" width="15" height="24.5" fill="#fff" stroke="#1a1a1a" stroke-width="0.7"/>
<rect x="385.7" y="916.2" width="15" height="25.3" fill="#fff" stroke="#1a1a1a" stroke-width="0.7"/>
<path d="M406.5 874.6 L418.5 862.7 L418.5 874.6 Z" fill="none" stroke="#1a1a1a" stroke-width="0.7"/>
<rect x="557.3" y="848.4" width="71.4" height="118" fill="#fff" stroke="#1a1a1a" stroke-width="0.8"/>
<rect x="526.9" y="875.4" width="7.1" height="63.6" fill="#fff" stroke="#1a1a1a" stroke-width="0.7"/>
<circle cx="580.9" cy="907" r="15" fill="#fff" stroke="#1a1a1a" stroke-width="0.8"/>
<rect x="606.3" y="858.3" width="44.5" height="98.1" fill="#fff" stroke="#1a1a1a" stroke-width="0.8"/>
<line x1="642.5" y1="858.3" x2="642.5" y2="956.4" stroke="#1a1a1a" stroke-width="0.7"/>
<line x1="645.3" y1="858.3" x2="645.3" y2="956.4" stroke="#1a1a1a" stroke-width="0.7"/>
<line x1="606.3" y1="891.2" x2="642.5" y2="891.2" stroke="#1a1a1a" stroke-width="0.7"/>
<line x1="606.3" y1="924.1" x2="642.5" y2="924.1" stroke="#1a1a1a" stroke-width="0.7"/>
<g transform="translate(598.5 828.9) rotate(33.6)"><rect x="-18.45" y="-19.85" width="36.9" height="39.7" fill="#fff" stroke="#1a1a1a" stroke-width="0.8"/><line x1="-13.45" y1="-19.85" x2="-13.45" y2="19.85" stroke="#1a1a1a" stroke-width="0.7"/><line x1="13.95" y1="-19.85" x2="13.95" y2="19.85" stroke="#1a1a1a" stroke-width="0.7"/><line x1="-13.45" y1="-10.35" x2="13.95" y2="-10.35" stroke="#1a1a1a" stroke-width="0.7"/><line x1="-13.45" y1="-7.85" x2="13.95" y2="-7.85" stroke="#1a1a1a" stroke-width="0.7"/></g>
<rect x="578.1" y="624.7" width="76.9" height="103.2" fill="#fff"/>
<line x1="578.1" y1="624.7" x2="578.1" y2="733.8" stroke="#1a1a1a" stroke-width="0.8"/>
<line x1="582.2" y1="624.7" x2="582.2" y2="673.5" stroke="#1a1a1a" stroke-width="0.8"/>
<line x1="597.4" y1="624.7" x2="587.3" y2="673.5" stroke="#1a1a1a" stroke-width="0.7"/>
<line x1="612.7" y1="624.7" x2="593.4" y2="673.5" stroke="#1a1a1a" stroke-width="0.7"/>
<line x1="628.5" y1="624.7" x2="599.5" y2="673.5" stroke="#1a1a1a" stroke-width="0.7"/>
<line x1="648.3" y1="624.7" x2="604.6" y2="673.5" stroke="#1a1a1a" stroke-width="0.7"/>
<line x1="654.9" y1="645" x2="605.6" y2="675" stroke="#1a1a1a" stroke-width="0.7"/>
<line x1="654.9" y1="663.8" x2="605.6" y2="675.5" stroke="#1a1a1a" stroke-width="0.7"/>
<line x1="592.4" y1="678.1" x2="603.5" y2="727.9" stroke="#1a1a1a" stroke-width="0.7"/>
<line x1="597.4" y1="678.1" x2="619.8" y2="727.9" stroke="#1a1a1a" stroke-width="0.7"/>
<line x1="601.5" y1="678.1" x2="636.1" y2="727.9" stroke="#1a1a1a" stroke-width="0.7"/>
<line x1="605.6" y1="678" x2="654.9" y2="719.8" stroke="#1a1a1a" stroke-width="0.7"/>
<line x1="605.6" y1="677" x2="654.9" y2="698.9" stroke="#1a1a1a" stroke-width="0.7"/>
<line x1="605.6" y1="676" x2="654.9" y2="681.6" stroke="#1a1a1a" stroke-width="0.7"/>
<path d="M581.7 641 L618.8 641 A19.8 18.8 0 0 1 638.6 659.8" fill="none" stroke="#1a1a1a" stroke-width="0.7"/>
<path d="M638.6 659.8 L638.6 692.3 A19.8 18.8 0 0 1 618.8 711.1 L593.4 711.1" fill="none" stroke="#1a1a1a" stroke-width="0.7"/>
<path d="M593.4 705.5 L587.3 711.1 L593.4 717.5 Z" fill="none" stroke="#1a1a1a" stroke-width="0.7"/>
<circle cx="581.7" cy="641" r="1.3" fill="#fff" stroke="#1a1a1a" stroke-width="0.7"/>
<line x1="585.8" y1="678.1" x2="585.8" y2="727.9" stroke="#1a1a1a" stroke-width="0.8"/>
<line x1="588.3" y1="678.1" x2="588.3" y2="727.9" stroke="#1a1a1a" stroke-width="0.8"/>
<rect x="578.1" y="673.5" width="27.5" height="4.6" fill="#fff" stroke="#1a1a1a" stroke-width="0.8"/>
<line x1="578.1" y1="727.9" x2="655" y2="727.9" stroke="#1a1a1a" stroke-width="0.8"/>
<rect x="578.1" y="728.4" width="41.8" height="5.4" fill="#fff"/>
<line x1="578.1" y1="733.8" x2="619.9" y2="733.8" stroke="#1a1a1a" stroke-width="0.8"/>
<rect x="619.8" y="728.2" width="35.2" height="24.1" fill="#fff"/>
<path d="M619.8 728.2 L655 728.2 L655 752.3 L619.8 752.3Z M624.9 733 L654.8 733 L654.8 747.2 L624.9 747.2Z" fill="#fff" fill-rule="evenodd"/>
<path clip-path="url(#c11)" d="M619.8 730.6L622.2 728.2M619.8 733.8L625.4 728.2M619.8 737L628.6 728.2M619.8 740.2L631.8 728.2M619.8 743.4L635 728.2M619.8 746.6L638.2 728.2M619.8 749.8L641.4 728.2M620.5 752.3L644.6 728.2M623.7 752.3L647.8 728.2M626.9 752.3L651 728.2M630.1 752.3L654.2 728.2M633.3 752.3L655 730.6M636.5 752.3L655 733.8M639.7 752.3L655 737M642.9 752.3L655 740.2M646.1 752.3L655 743.4M649.3 752.3L655 746.6M652.5 752.3L655 749.8" stroke="#222" stroke-width="0.95" fill="none"/>
<path d="M619.8 728.2 L655 728.2 L655 752.3 L619.8 752.3Z M624.9 733 L654.8 733 L654.8 747.2 L624.9 747.2Z" fill="none" fill-rule="evenodd" stroke="#1a1a1a" stroke-width="1"/>
<line x1="624.9" y1="747.2" x2="654.8" y2="733" stroke="#1a1a1a" stroke-width="0.7"/>
<path d="M521.9 473.3 L526.9 473.3 L526.9 618.6 L531.6 618.6 L531.6 625 L517.4 625 L517.4 618.6 L521.9 618.6Z" fill="#fff"/>
<path clip-path="url(#c12)" d="M517.4 474.6L518.7 473.3M517.4 477.8L521.9 473.3M517.4 481L525.1 473.3M517.4 484.2L528.3 473.3M517.4 487.4L531.5 473.3M517.4 490.6L531.6 476.4M517.4 493.8L531.6 479.6M517.4 497L531.6 482.8M517.4 500.2L531.6 486M517.4 503.4L531.6 489.2M517.4 506.6L531.6 492.4M517.4 509.8L531.6 495.6M517.4 513L531.6 498.8M517.4 516.2L531.6 502M517.4 519.4L531.6 505.2M517.4 522.6L531.6 508.4M517.4 525.8L531.6 511.6M517.4 529L531.6 514.8M517.4 532.2L531.6 518M517.4 535.4L531.6 521.2M517.4 538.6L531.6 524.4M517.4 541.8L531.6 527.6M517.4 545L531.6 530.8M517.4 548.2L531.6 534M517.4 551.4L531.6 537.2M517.4 554.6L531.6 540.4M517.4 557.8L531.6 543.6M517.4 561L531.6 546.8M517.4 564.2L531.6 550M517.4 567.4L531.6 553.2M517.4 570.6L531.6 556.4M517.4 573.8L531.6 559.6M517.4 577L531.6 562.8M517.4 580.2L531.6 566M517.4 583.4L531.6 569.2M517.4 586.6L531.6 572.4M517.4 589.8L531.6 575.6M517.4 593L531.6 578.8M517.4 596.2L531.6 582M517.4 599.4L531.6 585.2M517.4 602.6L531.6 588.4M517.4 605.8L531.6 591.6M517.4 609L531.6 594.8M517.4 612.2L531.6 598M517.4 615.4L531.6 601.2M517.4 618.6L531.6 604.4M517.4 621.8L531.6 607.6M517.4 625L531.6 610.8M520.6 625L531.6 614M523.8 625L531.6 617.2M527 625L531.6 620.4M530.2 625L531.6 623.6" stroke="#222" stroke-width="0.95" fill="none"/>
<path d="M521.9 473.3 L526.9 473.3 L526.9 618.6 L531.6 618.6 L531.6 625 L517.4 625 L517.4 618.6 L521.9 618.6Z" fill="none" stroke="#1a1a1a" stroke-width="1"/>
<path d="M379.6 618.6H479.6V625H379.6Z" fill="#fff"/>
<path clip-path="url(#c13)" d="M379.6 618.8L379.8 618.6M379.6 622L383 618.6M379.8 625L386.2 618.6M383 625L389.4 618.6M386.2 625L392.6 618.6M389.4 625L395.8 618.6M392.6 625L399 618.6M395.8 625L402.2 618.6M399 625L405.4 618.6M402.2 625L408.6 618.6M405.4 625L411.8 618.6M408.6 625L415 618.6M411.8 625L418.2 618.6M415 625L421.4 618.6M418.2 625L424.6 618.6M421.4 625L427.8 618.6M424.6 625L431 618.6M427.8 625L434.2 618.6M431 625L437.4 618.6M434.2 625L440.6 618.6M437.4 625L443.8 618.6M440.6 625L447 618.6M443.8 625L450.2 618.6M447 625L453.4 618.6M450.2 625L456.6 618.6M453.4 625L459.8 618.6M456.6 625L463 618.6M459.8 625L466.2 618.6M463 625L469.4 618.6M466.2 625L472.6 618.6M469.4 625L475.8 618.6M472.6 625L479 618.6M475.8 625L479.6 621.2M479 625L479.6 624.4" stroke="#222" stroke-width="0.95" fill="none"/>
<path d="M379.6 618.6H479.6V625H379.6Z" fill="none" stroke="#1a1a1a" stroke-width="1"/>
<path d="M568.9 618.6H655V625H568.9Z" fill="#fff"/>
<path clip-path="url(#c14)" d="M568.9 621.5L571.8 618.6M568.9 624.7L575 618.6M571.8 625L578.2 618.6M575 625L581.4 618.6M578.2 625L584.6 618.6M581.4 625L587.8 618.6M584.6 625L591 618.6M587.8 625L594.2 618.6M591 625L597.4 618.6M594.2 625L600.6 618.6M597.4 625L603.8 618.6M600.6 625L607 618.6M603.8 625L610.2 618.6M607 625L613.4 618.6M610.2 625L616.6 618.6M613.4 625L619.8 618.6M616.6 625L623 618.6M619.8 625L626.2 618.6M623 625L629.4 618.6M626.2 625L632.6 618.6M629.4 625L635.8 618.6M632.6 625L639 618.6M635.8 625L642.2 618.6M639 625L645.4 618.6M642.2 625L648.6 618.6M645.4 625L651.8 618.6M648.6 625L655 618.6M651.8 625L655 621.8" stroke="#222" stroke-width="0.95" fill="none"/>
<path d="M568.9 618.6H655V625H568.9Z" fill="none" stroke="#1a1a1a" stroke-width="1"/>
<path d="M468.8 625H473.8V649.8H468.8Z" fill="#fff"/>
<path clip-path="url(#c15)" d="M468.8 625.6L469.4 625M468.8 628.8L472.6 625M468.8 632L473.8 627M468.8 635.2L473.8 630.2M468.8 638.4L473.8 633.4M468.8 641.6L473.8 636.6M468.8 644.8L473.8 639.8M468.8 648L473.8 643M470.2 649.8L473.8 646.2M473.4 649.8L473.8 649.4" stroke="#222" stroke-width="0.95" fill="none"/>
<path d="M468.8 625H473.8V649.8H468.8Z" fill="none" stroke="#1a1a1a" stroke-width="1"/>
<path d="M468.8 689.7H473.8V737.9H468.8Z" fill="#fff"/>
<path clip-path="url(#c16)" d="M468.8 692.8L471.9 689.7M468.8 696L473.8 691M468.8 699.2L473.8 694.2M468.8 702.4L473.8 697.4M468.8 705.6L473.8 700.6M468.8 708.8L473.8 703.8M468.8 712L473.8 707M468.8 715.2L473.8 710.2M468.8 718.4L473.8 713.4M468.8 721.6L473.8 716.6M468.8 724.8L473.8 719.8M468.8 728L473.8 723M468.8 731.2L473.8 726.2M468.8 734.4L473.8 729.4M468.8 737.6L473.8 732.6M471.7 737.9L473.8 735.8" stroke="#222" stroke-width="0.95" fill="none"/>
<path d="M468.8 689.7H473.8V737.9H468.8Z" fill="none" stroke="#1a1a1a" stroke-width="1"/>
<path d="M379.6 727.9H473.8V735.4H379.6Z" fill="#fff"/>
<path clip-path="url(#c17)" d="M379.6 730.8L382.5 727.9M379.6 734L385.7 727.9M381.4 735.4L388.9 727.9M384.6 735.4L392.1 727.9M387.8 735.4L395.3 727.9M391 735.4L398.5 727.9M394.2 735.4L401.7 727.9M397.4 735.4L404.9 727.9M400.6 735.4L408.1 727.9M403.8 735.4L411.3 727.9M407 735.4L414.5 727.9M410.2 735.4L417.7 727.9M413.4 735.4L420.9 727.9M416.6 735.4L424.1 727.9M419.8 735.4L427.3 727.9M423 735.4L430.5 727.9M426.2 735.4L433.7 727.9M429.4 735.4L436.9 727.9M432.6 735.4L440.1 727.9M435.8 735.4L443.3 727.9M439 735.4L446.5 727.9M442.2 735.4L449.7 727.9M445.4 735.4L452.9 727.9M448.6 735.4L456.1 727.9M451.8 735.4L459.3 727.9M455 735.4L462.5 727.9M458.2 735.4L465.7 727.9M461.4 735.4L468.9 727.9M464.6 735.4L472.1 727.9M467.8 735.4L473.8 729.4M471 735.4L473.8 732.6" stroke="#222" stroke-width="0.95" fill="none"/>
<path d="M379.6 727.9H473.8V735.4H379.6Z" fill="none" stroke="#1a1a1a" stroke-width="1"/>
<path d="M468.8 770.8H473.8V833.1H468.8Z" fill="#fff"/>
<path clip-path="url(#c18)" d="M468.8 772.8L470.8 770.8M468.8 776L473.8 771M468.8 779.2L473.8 774.2M468.8 782.4L473.8 777.4M468.8 785.6L473.8 780.6M468.8 788.8L473.8 783.8M468.8 792L473.8 787M468.8 795.2L473.8 790.2M468.8 798.4L473.8 793.4M468.8 801.6L473.8 796.6M468.8 804.8L473.8 799.8M468.8 808L473.8 803M468.8 811.2L473.8 806.2M468.8 814.4L473.8 809.4M468.8 817.6L473.8 812.6M468.8 820.8L473.8 815.8M468.8 824L473.8 819M468.8 827.2L473.8 822.2M468.8 830.4L473.8 825.4M469.3 833.1L473.8 828.6M472.5 833.1L473.8 831.8" stroke="#222" stroke-width="0.95" fill="none"/>
<path d="M468.8 770.8H473.8V833.1H468.8Z" fill="none" stroke="#1a1a1a" stroke-width="1"/>
<path d="M379.6 794.9H479.6V799.9H379.6Z" fill="#fff"/>
<path clip-path="url(#c19)" d="M379.6 798L382.7 794.9M380.9 799.9L385.9 794.9M384.1 799.9L389.1 794.9M387.3 799.9L392.3 794.9M390.5 799.9L395.5 794.9M393.7 799.9L398.7 794.9M396.9 799.9L401.9 794.9M400.1 799.9L405.1 794.9M403.3 799.9L408.3 794.9M406.5 799.9L411.5 794.9M409.7 799.9L414.7 794.9M412.9 799.9L417.9 794.9M416.1 799.9L421.1 794.9M419.3 799.9L424.3 794.9M422.5 799.9L427.5 794.9M425.7 799.9L430.7 794.9M428.9 799.9L433.9 794.9M432.1 799.9L437.1 794.9M435.3 799.9L440.3 794.9M438.5 799.9L443.5 794.9M441.7 799.9L446.7 794.9M444.9 799.9L449.9 794.9M448.1 799.9L453.1 794.9M451.3 799.9L456.3 794.9M454.5 799.9L459.5 794.9M457.7 799.9L462.7 794.9M460.9 799.9L465.9 794.9M464.1 799.9L469.1 794.9M467.3 799.9L472.3 794.9M470.5 799.9L475.5 794.9M473.7 799.9L478.7 794.9M476.9 799.9L479.6 797.2" stroke="#222" stroke-width="0.95" fill="none"/>
<path d="M379.6 794.9H479.6V799.9H379.6Z" fill="none" stroke="#1a1a1a" stroke-width="1"/>
<path d="M517.4 794.6 L526.9 794.6 L526.9 980 L521.6 980 L521.6 799.6 L517.4 799.6Z" fill="#fff"/>
<path clip-path="url(#c20)" d="M517.4 797.8L520.6 794.6M517.4 801L523.8 794.6M517.4 804.2L526.9 794.7M517.4 807.4L526.9 797.9M517.4 810.6L526.9 801.1M517.4 813.8L526.9 804.3M517.4 817L526.9 807.5M517.4 820.2L526.9 810.7M517.4 823.4L526.9 813.9M517.4 826.6L526.9 817.1M517.4 829.8L526.9 820.3M517.4 833L526.9 823.5M517.4 836.2L526.9 826.7M517.4 839.4L526.9 829.9M517.4 842.6L526.9 833.1M517.4 845.8L526.9 836.3M517.4 849L526.9 839.5M517.4 852.2L526.9 842.7M517.4 855.4L526.9 845.9M517.4 858.6L526.9 849.1M517.4 861.8L526.9 852.3M517.4 865L526.9 855.5M517.4 868.2L526.9 858.7M517.4 871.4L526.9 861.9M517.4 874.6L526.9 865.1M517.4 877.8L526.9 868.3M517.4 881L526.9 871.5M517.4 884.2L526.9 874.7M517.4 887.4L526.9 877.9M517.4 890.6L526.9 881.1M517.4 893.8L526.9 884.3M517.4 897L526.9 887.5M517.4 900.2L526.9 890.7M517.4 903.4L526.9 893.9M517.4 906.6L526.9 897.1M517.4 909.8L526.9 900.3M517.4 913L526.9 903.5M517.4 916.2L526.9 906.7M517.4 919.4L526.9 909.9M517.4 922.6L526.9 913.1M517.4 925.8L526.9 916.3M517.4 929L526.9 919.5M517.4 932.2L526.9 922.7M517.4 935.4L526.9 925.9M517.4 938.6L526.9 929.1M517.4 941.8L526.9 932.3M517.4 945L526.9 935.5M517.4 948.2L526.9 938.7M517.4 951.4L526.9 941.9M517.4 954.6L526.9 945.1M517.4 957.8L526.9 948.3M517.4 961L526.9 951.5M517.4 964.2L526.9 954.7M517.4 967.4L526.9 957.9M517.4 970.6L526.9 961.1M517.4 973.8L526.9 964.3M517.4 977L526.9 967.5M517.6 980L526.9 970.7M520.8 980L526.9 973.9M524 980L526.9 977.1" stroke="#222" stroke-width="0.95" fill="none"/>
<path d="M517.4 794.6 L526.9 794.6 L526.9 980 L521.6 980 L521.6 799.6 L517.4 799.6Z" fill="none" stroke="#1a1a1a" stroke-width="1"/>
<line x1="516.5" y1="799.6" x2="516.5" y2="833" stroke="#888" stroke-width="0.8"/>
<path d="M362.5 455.3 L660.8 455.3 L660.8 997.6 L362.5 997.6Z M379.6 473.3 L379.6 980 L655 980 L655 473.3Z" fill="#fff" fill-rule="evenodd"/>
<path clip-path="url(#c21)" d="M362.5 456.7L363.9 455.3M362.5 459.9L367.1 455.3M362.5 463.1L370.3 455.3M362.5 466.3L373.5 455.3M362.5 469.5L376.7 455.3M362.5 472.7L379.9 455.3M362.5 475.9L383.1 455.3M362.5 479.1L386.3 455.3M362.5 482.3L389.5 455.3M362.5 485.5L392.7 455.3M362.5 488.7L395.9 455.3M362.5 491.9L399.1 455.3M362.5 495.1L402.3 455.3M362.5 498.3L405.5 455.3M362.5 501.5L408.7 455.3M362.5 504.7L411.9 455.3M362.5 507.9L415.1 455.3M362.5 511.1L418.3 455.3M362.5 514.3L421.5 455.3M362.5 517.5L424.7 455.3M362.5 520.7L427.9 455.3M362.5 523.9L431.1 455.3M362.5 527.1L434.3 455.3M362.5 530.3L437.5 455.3M362.5 533.5L440.7 455.3M362.5 536.7L443.9 455.3M362.5 539.9L447.1 455.3M362.5 543.1L450.3 455.3M362.5 546.3L453.5 455.3M362.5 549.5L456.7 455.3M362.5 552.7L459.9 455.3M362.5 555.9L463.1 455.3M362.5 559.1L466.3 455.3M362.5 562.3L469.5 455.3M362.5 565.5L472.7 455.3M362.5 568.7L475.9 455.3M362.5 571.9L479.1 455.3M362.5 575.1L482.3 455.3M362.5 578.3L485.5 455.3M362.5 581.5L488.7 455.3M362.5 584.7L491.9 455.3M362.5 587.9L495.1 455.3M362.5 591.1L498.3 455.3M362.5 594.3L501.5 455.3M362.5 597.5L504.7 455.3M362.5 600.7L507.9 455.3M362.5 603.9L511.1 455.3M362.5 607.1L514.3 455.3M362.5 610.3L517.5 455.3M362.5 613.5L520.7 455.3M362.5 616.7L523.9 455.3M362.5 619.9L527.1 455.3M362.5 623.1L530.3 455.3M362.5 626.3L533.5 455.3M362.5 629.5L536.7 455.3M362.5 632.7L539.9 455.3M362.5 635.9L543.1 455.3M362.5 639.1L546.3 455.3M362.5 642.3L549.5 455.3M362.5 645.5L552.7 455.3M362.5 648.7L555.9 455.3M362.5 651.9L559.1 455.3M362.5 655.1L562.3 455.3M362.5 658.3L565.5 455.3M362.5 661.5L568.7 455.3M362.5 664.7L571.9 455.3M362.5 667.9L575.1 455.3M362.5 671.1L578.3 455.3M362.5 674.3L581.5 455.3M362.5 677.5L584.7 455.3M362.5 680.7L587.9 455.3M362.5 683.9L591.1 455.3M362.5 687.1L594.3 455.3M362.5 690.3L597.5 455.3M362.5 693.5L600.7 455.3M362.5 696.7L603.9 455.3M362.5 699.9L607.1 455.3M362.5 703.1L610.3 455.3M362.5 706.3L613.5 455.3M362.5 709.5L616.7 455.3M362.5 712.7L619.9 455.3M362.5 715.9L623.1 455.3M362.5 719.1L626.3 455.3M362.5 722.3L629.5 455.3M362.5 725.5L632.7 455.3M362.5 728.7L635.9 455.3M362.5 731.9L639.1 455.3M362.5 735.1L642.3 455.3M362.5 738.3L645.5 455.3M362.5 741.5L648.7 455.3M362.5 744.7L651.9 455.3M362.5 747.9L655.1 455.3M362.5 751.1L658.3 455.3M362.5 754.3L660.8 456M362.5 757.5L660.8 459.2M362.5 760.7L660.8 462.4M362.5 763.9L660.8 465.6M362.5 767.1L660.8 468.8M362.5 770.3L660.8 472M362.5 773.5L660.8 475.2M362.5 776.7L660.8 478.4M362.5 779.9L660.8 481.6M362.5 783.1L660.8 484.8M362.5 786.3L660.8 488M362.5 789.5L660.8 491.2M362.5 792.7L660.8 494.4M362.5 795.9L660.8 497.6M362.5 799.1L660.8 500.8M362.5 802.3L660.8 504M362.5 805.5L660.8 507.2M362.5 808.7L660.8 510.4M362.5 811.9L660.8 513.6M362.5 815.1L660.8 516.8M362.5 818.3L660.8 520M362.5 821.5L660.8 523.2M362.5 824.7L660.8 526.4M362.5 827.9L660.8 529.6M362.5 831.1L660.8 532.8M362.5 834.3L660.8 536M362.5 837.5L660.8 539.2M362.5 840.7L660.8 542.4M362.5 843.9L660.8 545.6M362.5 847.1L660.8 548.8M362.5 850.3L660.8 552M362.5 853.5L660.8 555.2M362.5 856.7L660.8 558.4M362.5 859.9L660.8 561.6M362.5 863.1L660.8 564.8M362.5 866.3L660.8 568M362.5 869.5L660.8 571.2M362.5 872.7L660.8 574.4M362.5 875.9L660.8 577.6M362.5 879.1L660.8 580.8M362.5 882.3L660.8 584M362.5 885.5L660.8 587.2M362.5 888.7L660.8 590.4M362.5 891.9L660.8 593.6M362.5 895.1L660.8 596.8M362.5 898.3L660.8 600M362.5 901.5L660.8 603.2M362.5 904.7L660.8 606.4M362.5 907.9L660.8 609.6M362.5 911.1L660.8 612.8M362.5 914.3L660.8 616M362.5 917.5L660.8 619.2M362.5 920.7L660.8 622.4M362.5 923.9L660.8 625.6M362.5 927.1L660.8 628.8M362.5 930.3L660.8 632M362.5 933.5L660.8 635.2M362.5 936.7L660.8 638.4M362.5 939.9L660.8 641.6M362.5 943.1L660.8 644.8M362.5 946.3L660.8 648M362.5 949.5L660.8 651.2M362.5 952.7L660.8 654.4M362.5 955.9L660.8 657.6M362.5 959.1L660.8 660.8M362.5 962.3L660.8 664M362.5 965.5L660.8 667.2M362.5 968.7L660.8 670.4M362.5 971.9L660.8 673.6M362.5 975.1L660.8 676.8M362.5 978.3L660.8 680M362.5 981.5L660.8 683.2M362.5 984.7L660.8 686.4M362.5 987.9L660.8 689.6M362.5 991.1L660.8 692.8M362.5 994.3L660.8 696M362.5 997.5L660.8 699.2M365.6 997.6L660.8 702.4M368.8 997.6L660.8 705.6M372 997.6L660.8 708.8M375.2 997.6L660.8 712M378.4 997.6L660.8 715.2M381.6 997.6L660.8 718.4M384.8 997.6L660.8 721.6M388 997.6L660.8 724.8M391.2 997.6L660.8 728M394.4 997.6L660.8 731.2M397.6 997.6L660.8 734.4M400.8 997.6L660.8 737.6M404 997.6L660.8 740.8M407.2 997.6L660.8 744M410.4 997.6L660.8 747.2M413.6 997.6L660.8 750.4M416.8 997.6L660.8 753.6M420 997.6L660.8 756.8M423.2 997.6L660.8 760M426.4 997.6L660.8 763.2M429.6 997.6L660.8 766.4M432.8 997.6L660.8 769.6M436 997.6L660.8 772.8M439.2 997.6L660.8 776M442.4 997.6L660.8 779.2M445.6 997.6L660.8 782.4M448.8 997.6L660.8 785.6M452 997.6L660.8 788.8M455.2 997.6L660.8 792M458.4 997.6L660.8 795.2M461.6 997.6L660.8 798.4M464.8 997.6L660.8 801.6M468 997.6L660.8 804.8M471.2 997.6L660.8 808M474.4 997.6L660.8 811.2M477.6 997.6L660.8 814.4M480.8 997.6L660.8 817.6M484 997.6L660.8 820.8M487.2 997.6L660.8 824M490.4 997.6L660.8 827.2M493.6 997.6L660.8 830.4M496.8 997.6L660.8 833.6M500 997.6L660.8 836.8M503.2 997.6L660.8 840M506.4 997.6L660.8 843.2M509.6 997.6L660.8 846.4M512.8 997.6L660.8 849.6M516 997.6L660.8 852.8M519.2 997.6L660.8 856M522.4 997.6L660.8 859.2M525.6 997.6L660.8 862.4M528.8 997.6L660.8 865.6M532 997.6L660.8 868.8M535.2 997.6L660.8 872M538.4 997.6L660.8 875.2M541.6 997.6L660.8 878.4M544.8 997.6L660.8 881.6M548 997.6L660.8 884.8M551.2 997.6L660.8 888M554.4 997.6L660.8 891.2M557.6 997.6L660.8 894.4M560.8 997.6L660.8 897.6M564 997.6L660.8 900.8M567.2 997.6L660.8 904M570.4 997.6L660.8 907.2M573.6 997.6L660.8 910.4M576.8 997.6L660.8 913.6M580 997.6L660.8 916.8M583.2 997.6L660.8 920M586.4 997.6L660.8 923.2M589.6 997.6L660.8 926.4M592.8 997.6L660.8 929.6M596 997.6L660.8 932.8M599.2 997.6L660.8 936M602.4 997.6L660.8 939.2M605.6 997.6L660.8 942.4M608.8 997.6L660.8 945.6M612 997.6L660.8 948.8M615.2 997.6L660.8 952M618.4 997.6L660.8 955.2M621.6 997.6L660.8 958.4M624.8 997.6L660.8 961.6M628 997.6L660.8 964.8M631.2 997.6L660.8 968M634.4 997.6L660.8 971.2M637.6 997.6L660.8 974.4M640.8 997.6L660.8 977.6M644 997.6L660.8 980.8M647.2 997.6L660.8 984M650.4 997.6L660.8 987.2M653.6 997.6L660.8 990.4M656.8 997.6L660.8 993.6M660 997.6L660.8 996.8" stroke="#222" stroke-width="0.95" fill="none"/>
<path d="M362.5 455.3 L660.8 455.3 L660.8 997.6 L362.5 997.6Z M379.6 473.3 L379.6 980 L655 980 L655 473.3Z" fill="none" fill-rule="evenodd" stroke="#1a1a1a" stroke-width="1.3"/>
<rect x="428.4" y="454.1" width="49.9" height="21.7" fill="#fff"/>
<rect x="428.4" y="454.1" width="49.9" height="21.7" fill="#fff" stroke="#1a1a1a" stroke-width="0.7"/>
<rect x="430.7" y="457.8" width="45.3" height="6" fill="none" stroke="#1a1a1a" stroke-width="0.7"/>
<line x1="430.7" y1="460.8" x2="476" y2="460.8" stroke="#1a1a1a" stroke-width="0.6"/>
<line x1="428.4" y1="456.5" x2="478.3" y2="456.5" stroke="#1a1a1a" stroke-width="0.6"/>
<rect x="556.5" y="454.1" width="49.8" height="21.7" fill="#fff"/>
<rect x="556.5" y="454.1" width="49.8" height="21.7" fill="#fff" stroke="#1a1a1a" stroke-width="0.7"/>
<rect x="558.8" y="457.8" width="45.2" height="6" fill="none" stroke="#1a1a1a" stroke-width="0.7"/>
<line x1="558.8" y1="460.8" x2="604" y2="460.8" stroke="#1a1a1a" stroke-width="0.6"/>
<line x1="556.5" y1="456.5" x2="606.3" y2="456.5" stroke="#1a1a1a" stroke-width="0.6"/>
<rect x="413.1" y="977.5" width="50.7" height="21.3" fill="#fff"/>
<rect x="413.1" y="977.5" width="50.7" height="21.3" fill="#fff" stroke="#1a1a1a" stroke-width="0.7"/>
<rect x="415.4" y="989.1" width="46.1" height="6" fill="none" stroke="#1a1a1a" stroke-width="0.7"/>
<line x1="415.4" y1="992.1" x2="461.5" y2="992.1" stroke="#1a1a1a" stroke-width="0.6"/>
<line x1="413.1" y1="996.4" x2="463.8" y2="996.4" stroke="#1a1a1a" stroke-width="0.6"/>
<rect x="571.4" y="977.5" width="49.5" height="21.3" fill="#fff"/>
<rect x="571.4" y="977.5" width="49.5" height="21.3" fill="#fff" stroke="#1a1a1a" stroke-width="0.7"/>
<rect x="573.7" y="989.1" width="44.9" height="6" fill="none" stroke="#1a1a1a" stroke-width="0.7"/>
<line x1="573.7" y1="992.1" x2="618.6" y2="992.1" stroke="#1a1a1a" stroke-width="0.6"/>
<line x1="571.4" y1="996.4" x2="620.9" y2="996.4" stroke="#1a1a1a" stroke-width="0.6"/>
<rect x="361.3" y="625.7" width="18.3" height="24.1" fill="#fff"/>
<rect x="361.3" y="625.7" width="18.3" height="24.1" fill="#fff" stroke="#1a1a1a" stroke-width="0.7"/>
<rect x="365" y="628" width="6" height="19.5" fill="none" stroke="#1a1a1a" stroke-width="0.7"/>
<line x1="368" y1="628" x2="368" y2="647.5" stroke="#1a1a1a" stroke-width="0.6"/>
<path d="M516 586 A37 37 0 0 0 479 623" fill="none" stroke="#1a1a1a" stroke-width="0.7"/>
<path d="M531.6 585.7 A37.3 37.3 0 0 1 568.9 623" fill="none" stroke="#1a1a1a" stroke-width="0.7"/>
<line x1="531.6" y1="586" x2="531.6" y2="618.6" stroke="#999" stroke-width="0.8"/>
<line x1="473.8" y1="686.4" x2="507.8" y2="686.4" stroke="#1a1a1a" stroke-width="0.7"/>
<path d="M507.8 686.4 A34 34 0 0 0 473.8 652.4" fill="none" stroke="#1a1a1a" stroke-width="0.7"/>
<line x1="473.8" y1="740.4" x2="505.3" y2="740.4" stroke="#1a1a1a" stroke-width="0.7"/>
<path d="M505.3 740.4 A31.5 31.5 0 0 1 473.8 771.9" fill="none" stroke="#1a1a1a" stroke-width="0.7"/>
<path d="M516.5 833 A35.5 35.5 0 0 1 481 797.5" fill="none" stroke="#1a1a1a" stroke-width="0.7"/>
<text x="445.5" y="570" font-size="10.2" text-anchor="start" font-weight="normal" fill="#1a1a1a" textLength="52.4" lengthAdjust="spacingAndGlyphs">SOVRUM 2</text>
<text x="544.9" y="570" font-size="10.2" text-anchor="start" font-weight="normal" fill="#1a1a1a" textLength="51" lengthAdjust="spacingAndGlyphs">SOVRUM 3</text>
<text x="394.3" y="607" font-size="10.2" text-anchor="middle" font-weight="normal" fill="#1a1a1a">G</text>
<text x="640.5" y="607" font-size="10.2" text-anchor="middle" font-weight="normal" fill="#1a1a1a">G</text>
<text x="438" y="666.4" font-size="10.2" text-anchor="middle" font-weight="normal" fill="#1a1a1a">WC/</text>
<text x="437.5" y="677.2" font-size="10.2" text-anchor="middle" font-weight="normal" fill="#1a1a1a">BAD</text>
<text x="515" y="722.6" font-size="10.2" text-anchor="start" font-weight="normal" fill="#1a1a1a" textLength="24.5" lengthAdjust="spacingAndGlyphs">HALL</text>
<text x="421.4" y="762.5" font-size="10.2" text-anchor="start" font-weight="normal" fill="#1a1a1a" textLength="18" lengthAdjust="spacingAndGlyphs">KLK</text>
<text x="425.6" y="819.8" font-size="10.2" text-anchor="middle" font-weight="normal" fill="#1a1a1a">G</text>
<text x="428.4" y="853" font-size="10.2" text-anchor="start" font-weight="normal" fill="#1a1a1a" textLength="51" lengthAdjust="spacingAndGlyphs">SOVRUM 1</text>
<text x="560.6" y="879.6" font-size="10.2" text-anchor="start" font-weight="normal" fill="#1a1a1a" textLength="40" lengthAdjust="spacingAndGlyphs">ALLRUM</text>
<rect x="689.1" y="455.4" width="298.2" height="57.2" fill="#fff" stroke="#1a1a1a" stroke-width="1.1"/>
<line x1="716.7" y1="455.4" x2="716.7" y2="512.6" stroke="#1a1a1a" stroke-width="0.8"/>
<line x1="747.78" y1="455.4" x2="747.78" y2="512.6" stroke="#1a1a1a" stroke-width="0.8"/>
<line x1="778.86" y1="455.4" x2="778.86" y2="512.6" stroke="#1a1a1a" stroke-width="0.8"/>
<line x1="809.94" y1="455.4" x2="809.94" y2="512.6" stroke="#1a1a1a" stroke-width="0.8"/>
<line x1="841.02" y1="455.4" x2="841.02" y2="512.6" stroke="#1a1a1a" stroke-width="0.8"/>
<line x1="872.1" y1="455.4" x2="872.1" y2="512.6" stroke="#1a1a1a" stroke-width="0.8"/>
<line x1="903.18" y1="455.4" x2="903.18" y2="512.6" stroke="#1a1a1a" stroke-width="0.8"/>
<line x1="934.26" y1="455.4" x2="934.26" y2="512.6" stroke="#1a1a1a" stroke-width="0.8"/>
<line x1="965.34" y1="455.4" x2="965.34" y2="512.6" stroke="#1a1a1a" stroke-width="0.8"/>
<rect x="706.6" y="549.6" width="274.9" height="246.7" fill="#fff"/>
<line x1="707.85" y1="549.6" x2="707.85" y2="783.9" stroke="#2a2a2a" stroke-width="0.75"/>
<line x1="715.68" y1="549.6" x2="715.68" y2="783.9" stroke="#2a2a2a" stroke-width="0.75"/>
<line x1="723.51" y1="549.6" x2="723.51" y2="783.9" stroke="#2a2a2a" stroke-width="0.75"/>
<line x1="731.34" y1="549.6" x2="731.34" y2="783.9" stroke="#2a2a2a" stroke-width="0.75"/>
<line x1="739.17" y1="549.6" x2="739.17" y2="783.9" stroke="#2a2a2a" stroke-width="0.75"/>
<line x1="747" y1="549.6" x2="747" y2="783.9" stroke="#2a2a2a" stroke-width="0.75"/>
<line x1="754.83" y1="549.6" x2="754.83" y2="783.9" stroke="#2a2a2a" stroke-width="0.75"/>
<line x1="762.66" y1="549.6" x2="762.66" y2="783.9" stroke="#2a2a2a" stroke-width="0.75"/>
<line x1="770.49" y1="549.6" x2="770.49" y2="783.9" stroke="#2a2a2a" stroke-width="0.75"/>
<line x1="778.32" y1="549.6" x2="778.32" y2="783.9" stroke="#2a2a2a" stroke-width="0.75"/>
<line x1="786.15" y1="549.6" x2="786.15" y2="783.9" stroke="#2a2a2a" stroke-width="0.75"/>
<line x1="793.98" y1="549.6" x2="793.98" y2="783.9" stroke="#2a2a2a" stroke-width="0.75"/>
<line x1="801.81" y1="549.6" x2="801.81" y2="783.9" stroke="#2a2a2a" stroke-width="0.75"/>
<line x1="809.64" y1="549.6" x2="809.64" y2="783.9" stroke="#2a2a2a" stroke-width="0.75"/>
<line x1="817.47" y1="549.6" x2="817.47" y2="783.9" stroke="#2a2a2a" stroke-width="0.75"/>
<line x1="825.3" y1="549.6" x2="825.3" y2="783.9" stroke="#2a2a2a" stroke-width="0.75"/>
<line x1="833.13" y1="549.6" x2="833.13" y2="783.9" stroke="#2a2a2a" stroke-width="0.75"/>
<line x1="840.96" y1="549.6" x2="840.96" y2="783.9" stroke="#2a2a2a" stroke-width="0.75"/>
<line x1="848.79" y1="549.6" x2="848.79" y2="783.9" stroke="#2a2a2a" stroke-width="0.75"/>
<line x1="856.62" y1="549.6" x2="856.62" y2="783.9" stroke="#2a2a2a" stroke-width="0.75"/>
<line x1="864.45" y1="549.6" x2="864.45" y2="783.9" stroke="#2a2a2a" stroke-width="0.75"/>
<line x1="872.28" y1="549.6" x2="872.28" y2="783.9" stroke="#2a2a2a" stroke-width="0.75"/>
<line x1="880.11" y1="549.6" x2="880.11" y2="783.9" stroke="#2a2a2a" stroke-width="0.75"/>
<line x1="887.94" y1="549.6" x2="887.94" y2="783.9" stroke="#2a2a2a" stroke-width="0.75"/>
<line x1="895.77" y1="549.6" x2="895.77" y2="783.9" stroke="#2a2a2a" stroke-width="0.75"/>
<line x1="903.6" y1="549.6" x2="903.6" y2="783.9" stroke="#2a2a2a" stroke-width="0.75"/>
<line x1="911.43" y1="549.6" x2="911.43" y2="783.9" stroke="#2a2a2a" stroke-width="0.75"/>
<line x1="919.26" y1="549.6" x2="919.26" y2="783.9" stroke="#2a2a2a" stroke-width="0.75"/>
<line x1="927.09" y1="549.6" x2="927.09" y2="783.9" stroke="#2a2a2a" stroke-width="0.75"/>
<line x1="934.92" y1="549.6" x2="934.92" y2="783.9" stroke="#2a2a2a" stroke-width="0.75"/>
<line x1="942.75" y1="549.6" x2="942.75" y2="783.9" stroke="#2a2a2a" stroke-width="0.75"/>
<line x1="950.58" y1="549.6" x2="950.58" y2="783.9" stroke="#2a2a2a" stroke-width="0.75"/>
<line x1="958.41" y1="549.6" x2="958.41" y2="783.9" stroke="#2a2a2a" stroke-width="0.75"/>
<line x1="966.24" y1="549.6" x2="966.24" y2="783.9" stroke="#2a2a2a" stroke-width="0.75"/>
<line x1="974.07" y1="549.6" x2="974.07" y2="783.9" stroke="#2a2a2a" stroke-width="0.75"/>
<line x1="706.6" y1="783.9" x2="981.5" y2="783.9" stroke="#1a1a1a" stroke-width="0.7"/>
<rect x="735.7" y="619.7" width="117.9" height="107.7" fill="#fff" stroke="#1a1a1a" stroke-width="0.8"/>
<rect x="745.3" y="601.1" width="98.4" height="43.9" fill="#fff" stroke="#1a1a1a" stroke-width="0.8"/>
<line x1="745.3" y1="606.1" x2="843.7" y2="606.1" stroke="#1a1a1a" stroke-width="0.7"/>
<line x1="745.3" y1="608.4" x2="843.7" y2="608.4" stroke="#1a1a1a" stroke-width="0.7"/>
<line x1="778.4" y1="608.4" x2="778.4" y2="645" stroke="#1a1a1a" stroke-width="0.7"/>
<line x1="810.9" y1="608.4" x2="810.9" y2="645" stroke="#1a1a1a" stroke-width="0.7"/>
<rect x="745.6" y="702" width="98.9" height="44.1" fill="#fff" stroke="#1a1a1a" stroke-width="0.8"/>
<line x1="745.6" y1="738.5" x2="844.5" y2="738.5" stroke="#1a1a1a" stroke-width="0.7"/>
<line x1="745.6" y1="741.5" x2="844.5" y2="741.5" stroke="#1a1a1a" stroke-width="0.7"/>
<line x1="778.4" y1="702" x2="778.4" y2="738.5" stroke="#1a1a1a" stroke-width="0.7"/>
<line x1="810.9" y1="702" x2="810.9" y2="738.5" stroke="#1a1a1a" stroke-width="0.7"/>
<rect x="772.2" y="659.3" width="44.9" height="29.4" fill="#fff" stroke="#1a1a1a" stroke-width="0.8"/>
<rect x="709.1" y="655.4" width="39.4" height="37.1" fill="#fff" stroke="#1a1a1a" stroke-width="0.8"/>
<line x1="709.1" y1="660.4" x2="748.5" y2="660.4" stroke="#1a1a1a" stroke-width="0.7"/>
<line x1="709.1" y1="687" x2="748.5" y2="687" stroke="#1a1a1a" stroke-width="0.7"/>
<line x1="717.4" y1="660.4" x2="717.4" y2="687" stroke="#1a1a1a" stroke-width="0.7"/>
<line x1="721.2" y1="660.4" x2="721.2" y2="687" stroke="#1a1a1a" stroke-width="0.7"/>
<rect x="706.6" y="727.9" width="13.3" height="16.9" fill="#fff"/>
<path d="M706.6 727.9 L719.9 727.9 L719.9 744.8 L706.6 744.8Z M706.6 732.9 L714 732.9 L714 739.5 L706.6 739.5Z" fill="#fff" fill-rule="evenodd"/>
<path clip-path="url(#c22)" d="M706.6 729.9L708.6 727.9M706.6 733.15L711.85 727.9M706.6 736.4L715.1 727.9M706.6 739.65L718.35 727.9M706.6 742.9L719.9 729.6M707.95 744.8L719.9 732.85M711.2 744.8L719.9 736.1M714.45 744.8L719.9 739.35M717.7 744.8L719.9 742.6" stroke="#222" stroke-width="0.95" fill="none"/>
<path d="M706.6 727.9 L719.9 727.9 L719.9 744.8 L706.6 744.8Z M706.6 732.9 L714 732.9 L714 739.5 L706.6 739.5Z" fill="none" fill-rule="evenodd" stroke="#1a1a1a" stroke-width="1"/>
<rect x="903.9" y="617.2" width="77.6" height="115.2" fill="#fff"/>
<line x1="923.9" y1="623.3" x2="913.8" y2="672.1" stroke="#1a1a1a" stroke-width="0.7"/>
<line x1="939.2" y1="623.3" x2="919.9" y2="672.1" stroke="#1a1a1a" stroke-width="0.7"/>
<line x1="955" y1="623.3" x2="926" y2="672.1" stroke="#1a1a1a" stroke-width="0.7"/>
<line x1="974.8" y1="623.3" x2="931.1" y2="672.1" stroke="#1a1a1a" stroke-width="0.7"/>
<line x1="981.5" y1="643.6" x2="932.1" y2="673.6" stroke="#1a1a1a" stroke-width="0.7"/>
<line x1="981.5" y1="662.4" x2="932.1" y2="674.1" stroke="#1a1a1a" stroke-width="0.7"/>
<line x1="918.9" y1="676.7" x2="930" y2="726.5" stroke="#1a1a1a" stroke-width="0.7"/>
<line x1="923.9" y1="676.7" x2="946.3" y2="726.5" stroke="#1a1a1a" stroke-width="0.7"/>
<line x1="928" y1="676.7" x2="962.6" y2="726.5" stroke="#1a1a1a" stroke-width="0.7"/>
<line x1="932.1" y1="676.6" x2="981.5" y2="718.4" stroke="#1a1a1a" stroke-width="0.7"/>
<line x1="932.1" y1="675.6" x2="981.5" y2="697.5" stroke="#1a1a1a" stroke-width="0.7"/>
<line x1="932.1" y1="674.6" x2="981.5" y2="680.2" stroke="#1a1a1a" stroke-width="0.7"/>
<path d="M908.2 639.6 L945.3 639.6 A19.8 18.8 0 0 1 965.1 658.4" fill="none" stroke="#1a1a1a" stroke-width="0.7"/>
<path d="M965.1 658.4 L965.1 690.9 A19.8 18.8 0 0 1 945.3 709.7 L919.9 709.7" fill="none" stroke="#1a1a1a" stroke-width="0.7"/>
<path d="M919.9 704.1 L913.8 709.7 L919.9 716.1 Z" fill="none" stroke="#1a1a1a" stroke-width="0.7"/>
<circle cx="908.2" cy="639.6" r="1.3" fill="#fff" stroke="#1a1a1a" stroke-width="0.7"/>
<line x1="912.3" y1="676.7" x2="912.3" y2="726.5" stroke="#1a1a1a" stroke-width="0.8"/>
<line x1="914.8" y1="676.7" x2="914.8" y2="726.5" stroke="#1a1a1a" stroke-width="0.8"/>
<path d="M903.8 617.2 L903.8 677 L932.1 677 L932.1 672.3 L908.2 672.3 L908.2 623.4 L981.5 623.4" fill="none" stroke="#1a1a1a" stroke-width="0.8"/>
<line x1="903.8" y1="617.2" x2="981.5" y2="617.2" stroke="#1a1a1a" stroke-width="0.8"/>
<line x1="903.8" y1="725.9" x2="981.5" y2="725.9" stroke="#1a1a1a" stroke-width="0.8"/>
<rect x="903.8" y="726.4" width="42.2" height="6.2" fill="#fff"/>
<rect x="903.8" y="725.9" width="42.2" height="6.7" fill="none" stroke="#1a1a1a" stroke-width="0.8"/>
<rect x="946" y="725.9" width="35.5" height="25.3" fill="#fff"/>
<path d="M946 725.9 L981.5 725.9 L981.5 751.2 L946 751.2Z M951.2 731.6 L981.2 731.6 L981.2 746.5 L951.2 746.5Z" fill="#fff" fill-rule="evenodd"/>
<path clip-path="url(#c23)" d="M946 727.6L947.7 725.9M946 730.8L950.9 725.9M946 734L954.1 725.9M946 737.2L957.3 725.9M946 740.4L960.5 725.9M946 743.6L963.7 725.9M946 746.8L966.9 725.9M946 750L970.1 725.9M948 751.2L973.3 725.9M951.2 751.2L976.5 725.9M954.4 751.2L979.7 725.9M957.6 751.2L981.5 727.3M960.8 751.2L981.5 730.5M964 751.2L981.5 733.7M967.2 751.2L981.5 736.9M970.4 751.2L981.5 740.1M973.6 751.2L981.5 743.3M976.8 751.2L981.5 746.5M980 751.2L981.5 749.7" stroke="#222" stroke-width="0.95" fill="none"/>
<path d="M946 725.9 L981.5 725.9 L981.5 751.2 L946 751.2Z M951.2 731.6 L981.2 731.6 L981.2 746.5 L951.2 746.5Z" fill="none" fill-rule="evenodd" stroke="#1a1a1a" stroke-width="1"/>
<line x1="951.2" y1="746.5" x2="981" y2="731.6" stroke="#1a1a1a" stroke-width="0.7"/>
<rect x="710.8" y="813.8" width="266.8" height="136.7" fill="#fff"/>
<line x1="716.23" y1="813.8" x2="716.23" y2="947.6" stroke="#2a2a2a" stroke-width="0.75"/>
<line x1="724.06" y1="813.8" x2="724.06" y2="947.6" stroke="#2a2a2a" stroke-width="0.75"/>
<line x1="731.89" y1="813.8" x2="731.89" y2="947.6" stroke="#2a2a2a" stroke-width="0.75"/>
<line x1="739.72" y1="813.8" x2="739.72" y2="947.6" stroke="#2a2a2a" stroke-width="0.75"/>
<line x1="747.55" y1="813.8" x2="747.55" y2="947.6" stroke="#2a2a2a" stroke-width="0.75"/>
<line x1="755.38" y1="813.8" x2="755.38" y2="947.6" stroke="#2a2a2a" stroke-width="0.75"/>
<line x1="763.21" y1="813.8" x2="763.21" y2="947.6" stroke="#2a2a2a" stroke-width="0.75"/>
<line x1="771.04" y1="813.8" x2="771.04" y2="947.6" stroke="#2a2a2a" stroke-width="0.75"/>
<line x1="778.87" y1="813.8" x2="778.87" y2="947.6" stroke="#2a2a2a" stroke-width="0.75"/>
<line x1="786.7" y1="813.8" x2="786.7" y2="947.6" stroke="#2a2a2a" stroke-width="0.75"/>
<line x1="794.53" y1="813.8" x2="794.53" y2="947.6" stroke="#2a2a2a" stroke-width="0.75"/>
<line x1="802.36" y1="813.8" x2="802.36" y2="947.6" stroke="#2a2a2a" stroke-width="0.75"/>
<line x1="810.19" y1="813.8" x2="810.19" y2="947.6" stroke="#2a2a2a" stroke-width="0.75"/>
<line x1="818.02" y1="813.8" x2="818.02" y2="947.6" stroke="#2a2a2a" stroke-width="0.75"/>
<line x1="825.85" y1="813.8" x2="825.85" y2="947.6" stroke="#2a2a2a" stroke-width="0.75"/>
<line x1="833.68" y1="813.8" x2="833.68" y2="947.6" stroke="#2a2a2a" stroke-width="0.75"/>
<line x1="841.51" y1="813.8" x2="841.51" y2="947.6" stroke="#2a2a2a" stroke-width="0.75"/>
<line x1="849.34" y1="813.8" x2="849.34" y2="947.6" stroke="#2a2a2a" stroke-width="0.75"/>
<line x1="857.17" y1="813.8" x2="857.17" y2="947.6" stroke="#2a2a2a" stroke-width="0.75"/>
<line x1="865" y1="813.8" x2="865" y2="947.6" stroke="#2a2a2a" stroke-width="0.75"/>
<line x1="872.83" y1="813.8" x2="872.83" y2="947.6" stroke="#2a2a2a" stroke-width="0.75"/>
<line x1="880.66" y1="813.8" x2="880.66" y2="947.6" stroke="#2a2a2a" stroke-width="0.75"/>
<line x1="888.49" y1="813.8" x2="888.49" y2="947.6" stroke="#2a2a2a" stroke-width="0.75"/>
<line x1="896.32" y1="813.8" x2="896.32" y2="947.6" stroke="#2a2a2a" stroke-width="0.75"/>
<line x1="904.15" y1="813.8" x2="904.15" y2="947.6" stroke="#2a2a2a" stroke-width="0.75"/>
<line x1="911.98" y1="813.8" x2="911.98" y2="947.6" stroke="#2a2a2a" stroke-width="0.75"/>
<line x1="919.81" y1="813.8" x2="919.81" y2="947.6" stroke="#2a2a2a" stroke-width="0.75"/>
<line x1="927.64" y1="813.8" x2="927.64" y2="947.6" stroke="#2a2a2a" stroke-width="0.75"/>
<line x1="935.47" y1="813.8" x2="935.47" y2="947.6" stroke="#2a2a2a" stroke-width="0.75"/>
<line x1="943.3" y1="813.8" x2="943.3" y2="947.6" stroke="#2a2a2a" stroke-width="0.75"/>
<line x1="951.13" y1="813.8" x2="951.13" y2="947.6" stroke="#2a2a2a" stroke-width="0.75"/>
<line x1="958.96" y1="813.8" x2="958.96" y2="947.6" stroke="#2a2a2a" stroke-width="0.75"/>
<line x1="966.79" y1="813.8" x2="966.79" y2="947.6" stroke="#2a2a2a" stroke-width="0.75"/>
<line x1="974.62" y1="813.8" x2="974.62" y2="947.6" stroke="#2a2a2a" stroke-width="0.75"/>
<line x1="710.8" y1="947.6" x2="977.6" y2="947.6" stroke="#1a1a1a" stroke-width="0.8"/>
<line x1="710.8" y1="950.5" x2="977.6" y2="950.5" stroke="#1a1a1a" stroke-width="0.8"/>
<line x1="710.8" y1="947.6" x2="710.8" y2="950.5" stroke="#1a1a1a" stroke-width="0.8"/>
<line x1="977.6" y1="947.6" x2="977.6" y2="950.5" stroke="#1a1a1a" stroke-width="0.8"/>
<rect x="719.6" y="819.6" width="31" height="101" rx="2.5" fill="#fff" stroke="#1a1a1a" stroke-width="0.8"/>
<line x1="719.6" y1="822.5" x2="750.6" y2="822.5" stroke="#1a1a1a" stroke-width="0.7"/>
<rect x="719.6" y="874" width="31" height="6.7" fill="#fff" stroke="#1a1a1a" stroke-width="0.7"/>
<rect x="716.6" y="833" width="3" height="38.6" fill="#fff" stroke="#1a1a1a" stroke-width="0.7"/>
<rect x="750.6" y="833" width="3.4" height="38.6" fill="#fff" stroke="#1a1a1a" stroke-width="0.7"/>
<circle cx="770.1" cy="834.2" r="12.5" fill="#fff" stroke="#1a1a1a" stroke-width="0.8"/>
<g transform="translate(902.6 856.64) rotate(-197)"><path d="M-11.5 0 A11.5 17 0 0 0 11.5 0Z" fill="#fff" stroke="#1a1a1a" stroke-width="0.8"/><path d="M-14 12.24 Q0 20.74 14 12.24" fill="none" stroke="#1a1a1a" stroke-width="1.1"/><path d="M-14 12.24 l3.5 -2.5 l1 3.2 M14 12.24 l-3.5 -2.5 l-1 3.2" fill="none" stroke="#1a1a1a" stroke-width="0.7"/></g>
<g transform="translate(926.91 861.58) rotate(-140)"><path d="M-11.5 0 A11.5 17 0 0 0 11.5 0Z" fill="#fff" stroke="#1a1a1a" stroke-width="0.8"/><path d="M-14 12.24 Q0 20.74 14 12.24" fill="none" stroke="#1a1a1a" stroke-width="1.1"/><path d="M-14 12.24 l3.5 -2.5 l1 3.2 M14 12.24 l-3.5 -2.5 l-1 3.2" fill="none" stroke="#1a1a1a" stroke-width="0.7"/></g>
<g transform="translate(935.63 886.91) rotate(-78)"><path d="M-11.5 0 A11.5 17 0 0 0 11.5 0Z" fill="#fff" stroke="#1a1a1a" stroke-width="0.8"/><path d="M-14 12.24 Q0 20.74 14 12.24" fill="none" stroke="#1a1a1a" stroke-width="1.1"/><path d="M-14 12.24 l3.5 -2.5 l1 3.2 M14 12.24 l-3.5 -2.5 l-1 3.2" fill="none" stroke="#1a1a1a" stroke-width="0.7"/></g>
<g transform="translate(918.23 906.23) rotate(-18)"><path d="M-11.5 0 A11.5 17 0 0 0 11.5 0Z" fill="#fff" stroke="#1a1a1a" stroke-width="0.8"/><path d="M-14 12.24 Q0 20.74 14 12.24" fill="none" stroke="#1a1a1a" stroke-width="1.1"/><path d="M-14 12.24 l3.5 -2.5 l1 3.2 M14 12.24 l-3.5 -2.5 l-1 3.2" fill="none" stroke="#1a1a1a" stroke-width="0.7"/></g>
<g transform="translate(892.47 900.52) rotate(43)"><path d="M-11.5 0 A11.5 17 0 0 0 11.5 0Z" fill="#fff" stroke="#1a1a1a" stroke-width="0.8"/><path d="M-14 12.24 Q0 20.74 14 12.24" fill="none" stroke="#1a1a1a" stroke-width="1.1"/><path d="M-14 12.24 l3.5 -2.5 l1 3.2 M14 12.24 l-3.5 -2.5 l-1 3.2" fill="none" stroke="#1a1a1a" stroke-width="0.7"/></g>
<g transform="translate(885.09 874.77) rotate(105)"><path d="M-11.5 0 A11.5 17 0 0 0 11.5 0Z" fill="#fff" stroke="#1a1a1a" stroke-width="0.8"/><path d="M-14 12.24 Q0 20.74 14 12.24" fill="none" stroke="#1a1a1a" stroke-width="1.1"/><path d="M-14 12.24 l3.5 -2.5 l1 3.2 M14 12.24 l-3.5 -2.5 l-1 3.2" fill="none" stroke="#1a1a1a" stroke-width="0.7"/></g>
<circle cx="910.2" cy="881.5" r="29.6" fill="#fff" stroke="#1a1a1a" stroke-width="0.8"/>
<path d="M689.1 937.7 L689.1 997.4 L987.3 997.4 L987.3 937.6" fill="none" stroke="#1a1a1a" stroke-width="1.1"/>
<line x1="716.7" y1="950.5" x2="716.7" y2="997.4" stroke="#1a1a1a" stroke-width="0.8"/>
<line x1="747.78" y1="950.5" x2="747.78" y2="997.4" stroke="#1a1a1a" stroke-width="0.8"/>
<line x1="778.86" y1="950.5" x2="778.86" y2="997.4" stroke="#1a1a1a" stroke-width="0.8"/>
<line x1="809.94" y1="950.5" x2="809.94" y2="997.4" stroke="#1a1a1a" stroke-width="0.8"/>
<line x1="841.02" y1="950.5" x2="841.02" y2="997.4" stroke="#1a1a1a" stroke-width="0.8"/>
<line x1="872.1" y1="950.5" x2="872.1" y2="997.4" stroke="#1a1a1a" stroke-width="0.8"/>
<line x1="903.18" y1="950.5" x2="903.18" y2="997.4" stroke="#1a1a1a" stroke-width="0.8"/>
<line x1="934.26" y1="950.5" x2="934.26" y2="997.4" stroke="#1a1a1a" stroke-width="0.8"/>
<line x1="965.34" y1="950.5" x2="965.34" y2="997.4" stroke="#1a1a1a" stroke-width="0.8"/>
<path d="M689.1 512.6 L987.3 512.6 L987.3 937.6 L977.6 937.6 L977.6 813.8 L923.9 813.8 L923.9 796.3 L981.5 796.3 L981.5 549.6 L706.6 549.6 L706.6 796.3 L766.4 796.3 L766.4 813.8 L710.8 813.8 L710.8 937.7 L689.1 937.7Z" fill="#fff"/>
<path clip-path="url(#c24)" d="M689.1 513.4L689.9 512.6M689.1 516.65L693.15 512.6M689.1 519.9L696.4 512.6M689.1 523.15L699.65 512.6M689.1 526.4L702.9 512.6M689.1 529.65L706.15 512.6M689.1 532.9L709.4 512.6M689.1 536.15L712.65 512.6M689.1 539.4L715.9 512.6M689.1 542.65L719.15 512.6M689.1 545.9L722.4 512.6M689.1 549.15L725.65 512.6M689.1 552.4L728.9 512.6M689.1 555.65L732.15 512.6M689.1 558.9L735.4 512.6M689.1 562.15L738.65 512.6M689.1 565.4L741.9 512.6M689.1 568.65L745.15 512.6M689.1 571.9L748.4 512.6M689.1 575.15L751.65 512.6M689.1 578.4L754.9 512.6M689.1 581.65L758.15 512.6M689.1 584.9L761.4 512.6M689.1 588.15L764.65 512.6M689.1 591.4L767.9 512.6M689.1 594.65L771.15 512.6M689.1 597.9L774.4 512.6M689.1 601.15L777.65 512.6M689.1 604.4L780.9 512.6M689.1 607.65L784.15 512.6M689.1 610.9L787.4 512.6M689.1 614.15L790.65 512.6M689.1 617.4L793.9 512.6M689.1 620.65L797.15 512.6M689.1 623.9L800.4 512.6M689.1 627.15L803.65 512.6M689.1 630.4L806.9 512.6M689.1 633.65L810.15 512.6M689.1 636.9L813.4 512.6M689.1 640.15L816.65 512.6M689.1 643.4L819.9 512.6M689.1 646.65L823.15 512.6M689.1 649.9L826.4 512.6M689.1 653.15L829.65 512.6M689.1 656.4L832.9 512.6M689.1 659.65L836.15 512.6M689.1 662.9L839.4 512.6M689.1 666.15L842.65 512.6M689.1 669.4L845.9 512.6M689.1 672.65L849.15 512.6M689.1 675.9L852.4 512.6M689.1 679.15L855.65 512.6M689.1 682.4L858.9 512.6M689.1 685.65L862.15 512.6M689.1 688.9L865.4 512.6M689.1 692.15L868.65 512.6M689.1 695.4L871.9 512.6M689.1 698.65L875.15 512.6M689.1 701.9L878.4 512.6M689.1 705.15L881.65 512.6M689.1 708.4L884.9 512.6M689.1 711.65L888.15 512.6M689.1 714.9L891.4 512.6M689.1 718.15L894.65 512.6M689.1 721.4L897.9 512.6M689.1 724.65L901.15 512.6M689.1 727.9L904.4 512.6M689.1 731.15L907.65 512.6M689.1 734.4L910.9 512.6M689.1 737.65L914.15 512.6M689.1 740.9L917.4 512.6M689.1 744.15L920.65 512.6M689.1 747.4L923.9 512.6M689.1 750.65L927.15 512.6M689.1 753.9L930.4 512.6M689.1 757.15L933.65 512.6M689.1 760.4L936.9 512.6M689.1 763.65L940.15 512.6M689.1 766.9L943.4 512.6M689.1 770.15L946.65 512.6M689.1 773.4L949.9 512.6M689.1 776.65L953.15 512.6M689.1 779.9L956.4 512.6M689.1 783.15L959.65 512.6M689.1 786.4L962.9 512.6M689.1 789.65L966.15 512.6M689.1 792.9L969.4 512.6M689.1 796.15L972.65 512.6M689.1 799.4L975.9 512.6M689.1 802.65L979.15 512.6M689.1 805.9L982.4 512.6M689.1 809.15L985.65 512.6M689.1 812.4L987.3 514.2M689.1 815.65L987.3 517.45M689.1 818.9L987.3 520.7M689.1 822.15L987.3 523.95M689.1 825.4L987.3 527.2M689.1 828.65L987.3 530.45M689.1 831.9L987.3 533.7M689.1 835.15L987.3 536.95M689.1 838.4L987.3 540.2M689.1 841.65L987.3 543.45M689.1 844.9L987.3 546.7M689.1 848.15L987.3 549.95M689.1 851.4L987.3 553.2M689.1 854.65L987.3 556.45M689.1 857.9L987.3 559.7M689.1 861.15L987.3 562.95M689.1 864.4L987.3 566.2M689.1 867.65L987.3 569.45M689.1 870.9L987.3 572.7M689.1 874.15L987.3 575.95M689.1 877.4L987.3 579.2M689.1 880.65L987.3 582.45M689.1 883.9L987.3 585.7M689.1 887.15L987.3 588.95M689.1 890.4L987.3 592.2M689.1 893.65L987.3 595.45M689.1 896.9L987.3 598.7M689.1 900.15L987.3 601.95M689.1 903.4L987.3 605.2M689.1 906.65L987.3 608.45M689.1 909.9L987.3 611.7M689.1 913.15L987.3 614.95M689.1 916.4L987.3 618.2M689.1 919.65L987.3 621.45M689.1 922.9L987.3 624.7M689.1 926.15L987.3 627.95M689.1 929.4L987.3 631.2M689.1 932.65L987.3 634.45M689.1 935.9L987.3 637.7M690.55 937.7L987.3 640.95M693.8 937.7L987.3 644.2M697.05 937.7L987.3 647.45M700.3 937.7L987.3 650.7M703.55 937.7L987.3 653.95M706.8 937.7L987.3 657.2M710.05 937.7L987.3 660.45M713.3 937.7L987.3 663.7M716.55 937.7L987.3 666.95M719.8 937.7L987.3 670.2M723.05 937.7L987.3 673.45M726.3 937.7L987.3 676.7M729.55 937.7L987.3 679.95M732.8 937.7L987.3 683.2M736.05 937.7L987.3 686.45M739.3 937.7L987.3 689.7M742.55 937.7L987.3 692.95M745.8 937.7L987.3 696.2M749.05 937.7L987.3 699.45M752.3 937.7L987.3 702.7M755.55 937.7L987.3 705.95M758.8 937.7L987.3 709.2M762.05 937.7L987.3 712.45M765.3 937.7L987.3 715.7M768.55 937.7L987.3 718.95M771.8 937.7L987.3 722.2M775.05 937.7L987.3 725.45M778.3 937.7L987.3 728.7M781.55 937.7L987.3 731.95M784.8 937.7L987.3 735.2M788.05 937.7L987.3 738.45M791.3 937.7L987.3 741.7M794.55 937.7L987.3 744.95M797.8 937.7L987.3 748.2M801.05 937.7L987.3 751.45M804.3 937.7L987.3 754.7M807.55 937.7L987.3 757.95M810.8 937.7L987.3 761.2M814.05 937.7L987.3 764.45M817.3 937.7L987.3 767.7M820.55 937.7L987.3 770.95M823.8 937.7L987.3 774.2M827.05 937.7L987.3 777.45M830.3 937.7L987.3 780.7M833.55 937.7L987.3 783.95M836.8 937.7L987.3 787.2M840.05 937.7L987.3 790.45M843.3 937.7L987.3 793.7M846.55 937.7L987.3 796.95M849.8 937.7L987.3 800.2M853.05 937.7L987.3 803.45M856.3 937.7L987.3 806.7M859.55 937.7L987.3 809.95M862.8 937.7L987.3 813.2M866.05 937.7L987.3 816.45M869.3 937.7L987.3 819.7M872.55 937.7L987.3 822.95M875.8 937.7L987.3 826.2M879.05 937.7L987.3 829.45M882.3 937.7L987.3 832.7M885.55 937.7L987.3 835.95M888.8 937.7L987.3 839.2M892.05 937.7L987.3 842.45M895.3 937.7L987.3 845.7M898.55 937.7L987.3 848.95M901.8 937.7L987.3 852.2M905.05 937.7L987.3 855.45M908.3 937.7L987.3 858.7M911.55 937.7L987.3 861.95M914.8 937.7L987.3 865.2M918.05 937.7L987.3 868.45M921.3 937.7L987.3 871.7M924.55 937.7L987.3 874.95M927.8 937.7L987.3 878.2M931.05 937.7L987.3 881.45M934.3 937.7L987.3 884.7M937.55 937.7L987.3 887.95M940.8 937.7L987.3 891.2M944.05 937.7L987.3 894.45M947.3 937.7L987.3 897.7M950.55 937.7L987.3 900.95M953.8 937.7L987.3 904.2M957.05 937.7L987.3 907.45M960.3 937.7L987.3 910.7M963.55 937.7L987.3 913.95M966.8 937.7L987.3 917.2M970.05 937.7L987.3 920.45M973.3 937.7L987.3 923.7M976.55 937.7L987.3 926.95M979.8 937.7L987.3 930.2M983.05 937.7L987.3 933.45M986.3 937.7L987.3 936.7" stroke="#222" stroke-width="0.95" fill="none"/>
<path d="M689.1 512.6 L987.3 512.6 L987.3 937.6 L977.6 937.6 L977.6 813.8 L923.9 813.8 L923.9 796.3 L981.5 796.3 L981.5 549.6 L706.6 549.6 L706.6 796.3 L766.4 796.3 L766.4 813.8 L710.8 813.8 L710.8 937.7 L689.1 937.7Z" fill="none" stroke="#1a1a1a" stroke-width="1.3"/>
<path d="M815.4 796.3H820.4V813.8H815.4Z" fill="#fff"/>
<path clip-path="url(#c25)" d="M815.4 796.6L815.7 796.3M815.4 799.85L818.95 796.3M815.4 803.1L820.4 798.1M815.4 806.35L820.4 801.35M815.4 809.6L820.4 804.6M815.4 812.85L820.4 807.85M817.7 813.8L820.4 811.1" stroke="#222" stroke-width="0.95" fill="none"/>
<path d="M815.4 796.3H820.4V813.8H815.4Z" fill="none" stroke="#1a1a1a" stroke-width="1"/>
<path d="M868.2 796.3H873.2V813.8H868.2Z" fill="#fff"/>
<path clip-path="url(#c26)" d="M868.2 799.05L870.95 796.3M868.2 802.3L873.2 797.3M868.2 805.55L873.2 800.55M868.2 808.8L873.2 803.8M868.2 812.05L873.2 807.05M869.7 813.8L873.2 810.3M872.95 813.8L873.2 813.55" stroke="#222" stroke-width="0.95" fill="none"/>
<path d="M868.2 796.3H873.2V813.8H868.2Z" fill="none" stroke="#1a1a1a" stroke-width="1"/>
<rect x="766.4" y="793.8" width="49" height="21.2" fill="#fff"/>
<rect x="766.4" y="793.8" width="49" height="21.2" fill="#fff" stroke="#1a1a1a" stroke-width="0.7"/>
<rect x="768.7" y="805.3" width="44.4" height="6" fill="none" stroke="#1a1a1a" stroke-width="0.7"/>
<line x1="768.7" y1="808.3" x2="813.1" y2="808.3" stroke="#1a1a1a" stroke-width="0.6"/>
<line x1="766.4" y1="812.6" x2="815.4" y2="812.6" stroke="#1a1a1a" stroke-width="0.6"/>
<rect x="873.2" y="793.8" width="50.7" height="21.2" fill="#fff"/>
<rect x="873.2" y="793.8" width="50.7" height="21.2" fill="#fff" stroke="#1a1a1a" stroke-width="0.7"/>
<rect x="875.5" y="805.3" width="46.1" height="6" fill="none" stroke="#1a1a1a" stroke-width="0.7"/>
<line x1="875.5" y1="808.3" x2="921.6" y2="808.3" stroke="#1a1a1a" stroke-width="0.6"/>
<line x1="873.2" y1="812.6" x2="923.9" y2="812.6" stroke="#1a1a1a" stroke-width="0.6"/>
<rect x="820.4" y="796.3" width="47.8" height="17.5" fill="#fff"/>
<rect x="820.4" y="796.3" width="47.8" height="17.5" fill="none" stroke="#1a1a1a" stroke-width="0.6"/>
<line x1="820.4" y1="806" x2="868.2" y2="806" stroke="#1a1a1a" stroke-width="0.6"/>
<line x1="820.4" y1="809" x2="868.2" y2="809" stroke="#1a1a1a" stroke-width="0.6"/>
<line x1="822.9" y1="814" x2="822.9" y2="854.5" stroke="#1a1a1a" stroke-width="0.7"/>
<path d="M822.9 854.5 A40.5 40.5 0 0 0 863.4 814" fill="none" stroke="#1a1a1a" stroke-width="0.7"/>
<line x1="968.7" y1="549.6" x2="968.7" y2="571.2" stroke="#1a1a1a" stroke-width="0.7"/>
<path d="M968.7 571.2 A21.6 21.6 0 0 1 947.1 549.6" fill="none" stroke="#1a1a1a" stroke-width="0.7"/>
<text x="773.9" y="585.7" font-size="10.2" text-anchor="start" font-weight="normal" fill="#1a1a1a" textLength="40.4" lengthAdjust="spacingAndGlyphs">ALLRUM</text>
<text x="783.9" y="901.8" font-size="10.2" text-anchor="start" font-weight="normal" fill="#1a1a1a" textLength="42.3" lengthAdjust="spacingAndGlyphs">TERRASS</text>
</svg>
</body></html>
